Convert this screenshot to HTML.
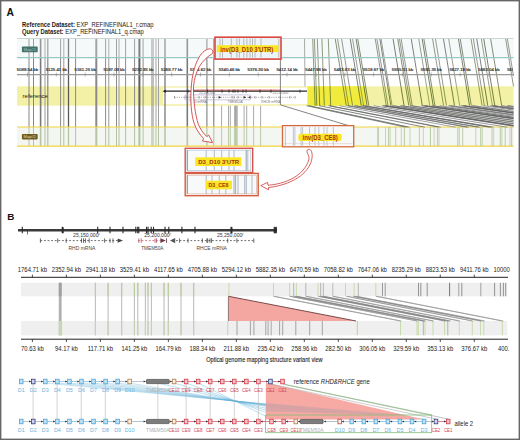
<!DOCTYPE html>
<html><head><meta charset="utf-8"><style>
html,body{margin:0;padding:0;background:#fff;width:520px;height:440px;overflow:hidden;}
svg{display:block;font-family:"Liberation Sans", sans-serif;}
</style></head><body>
<svg width="520" height="440" viewBox="0 0 520 440" font-family='"Liberation Sans", sans-serif'>
<rect x="0" y="0" width="520" height="440" fill="#fff"/>
<text x="6.6" y="15.7" font-size="10.3" fill="#111" font-weight="bold" text-anchor="start" font-style="normal">A</text>
<text x="22" y="27.3" font-size="6.3" fill="#1a1a1a" textLength="131.5" lengthAdjust="spacingAndGlyphs"><tspan font-weight="bold">Reference Dataset: </tspan>EXP_REFINEFINAL1_r.cmap</text>
<text x="22" y="34.4" font-size="6.3" fill="#1a1a1a" textLength="121.8" lengthAdjust="spacingAndGlyphs"><tspan font-weight="bold">Query Dataset: </tspan>EXP_REFINEFINAL1_q.cmap</text>
<rect x="17" y="38.5" width="496.5" height="19" fill="#f5f9f9" stroke="none" stroke-width="1"/>
<rect x="17" y="86.3" width="496.5" height="19.4" fill="#f3f1a6" stroke="none" stroke-width="1"/>
<rect x="307.5" y="86.3" width="58.5" height="19.4" fill="#f0eb3c" stroke="none" stroke-width="1"/>
<rect x="163" y="87.6" width="144.2" height="16.6" fill="#ffffff" stroke="none" stroke-width="1"/>
<rect x="17" y="127" width="496.5" height="19.2" fill="#f4f6f2" stroke="none" stroke-width="1"/>
<line x1="221.6" y1="105.7" x2="221.6" y2="127" stroke="#a0a0a0" stroke-width="0.9"/>
<line x1="221.6" y1="127" x2="221.6" y2="146.2" stroke="#b4c4a4" stroke-width="0.9"/>
<line x1="228.5" y1="105.7" x2="228.5" y2="127" stroke="#a0a0a0" stroke-width="0.9"/>
<line x1="228.5" y1="127" x2="228.5" y2="146.2" stroke="#b4c4a4" stroke-width="0.9"/>
<line x1="230.3" y1="105.7" x2="230.3" y2="127" stroke="#a0a0a0" stroke-width="0.9"/>
<line x1="230.3" y1="127" x2="230.3" y2="146.2" stroke="#b4c4a4" stroke-width="0.9"/>
<line x1="234.6" y1="105.7" x2="234.6" y2="127" stroke="#a0a0a0" stroke-width="0.9"/>
<line x1="234.6" y1="127" x2="234.6" y2="146.2" stroke="#b4c4a4" stroke-width="0.9"/>
<line x1="235.5" y1="105.7" x2="235.5" y2="127" stroke="#a0a0a0" stroke-width="0.9"/>
<line x1="235.5" y1="127" x2="235.5" y2="146.2" stroke="#b4c4a4" stroke-width="0.9"/>
<line x1="236.4" y1="105.7" x2="236.4" y2="127" stroke="#a0a0a0" stroke-width="0.9"/>
<line x1="236.4" y1="127" x2="236.4" y2="146.2" stroke="#b4c4a4" stroke-width="0.9"/>
<line x1="237.2" y1="105.7" x2="237.2" y2="127" stroke="#a0a0a0" stroke-width="0.9"/>
<line x1="237.2" y1="127" x2="237.2" y2="146.2" stroke="#b4c4a4" stroke-width="0.9"/>
<line x1="244.1" y1="105.7" x2="244.1" y2="127" stroke="#a0a0a0" stroke-width="0.9"/>
<line x1="244.1" y1="127" x2="244.1" y2="146.2" stroke="#b4c4a4" stroke-width="0.9"/>
<line x1="246.7" y1="105.7" x2="246.7" y2="127" stroke="#a0a0a0" stroke-width="0.9"/>
<line x1="246.7" y1="127" x2="246.7" y2="146.2" stroke="#b4c4a4" stroke-width="0.9"/>
<line x1="253.6" y1="105.7" x2="253.6" y2="127" stroke="#a0a0a0" stroke-width="0.9"/>
<line x1="253.6" y1="127" x2="253.6" y2="146.2" stroke="#b4c4a4" stroke-width="0.9"/>
<line x1="260.6" y1="105.7" x2="260.6" y2="127" stroke="#a0a0a0" stroke-width="0.9"/>
<line x1="260.6" y1="127" x2="260.6" y2="146.2" stroke="#b4c4a4" stroke-width="0.9"/>
<line x1="280.4" y1="59" x2="280.4" y2="105" stroke="#777" stroke-width="0.9"/>
<line x1="29" y1="38.5" x2="29" y2="57.7" stroke="#9f9f9f" stroke-width="1"/>
<line x1="29" y1="57.7" x2="29" y2="127" stroke="#858585" stroke-width="1"/>
<line x1="29" y1="127" x2="29" y2="146.2" stroke="#b4c4a4" stroke-width="1"/>
<line x1="33.5" y1="38.5" x2="33.5" y2="57.7" stroke="#9f9f9f" stroke-width="1"/>
<line x1="33.5" y1="57.7" x2="33.5" y2="127" stroke="#858585" stroke-width="1"/>
<line x1="33.5" y1="127" x2="33.5" y2="146.2" stroke="#b4c4a4" stroke-width="1"/>
<line x1="40.6" y1="38.5" x2="40.6" y2="57.7" stroke="#979797" stroke-width="1.6"/>
<line x1="40.6" y1="57.7" x2="40.6" y2="127" stroke="#7a7a7a" stroke-width="1.6"/>
<line x1="40.6" y1="127" x2="40.6" y2="146.2" stroke="#b4c4a4" stroke-width="1.6"/>
<line x1="45" y1="38.5" x2="45" y2="57.7" stroke="#afafaf" stroke-width="1"/>
<line x1="45" y1="57.7" x2="45" y2="127" stroke="#999" stroke-width="1"/>
<line x1="45" y1="127" x2="45" y2="146.2" stroke="#b4c4a4" stroke-width="1"/>
<line x1="47.8" y1="38.5" x2="47.8" y2="57.7" stroke="#9f9f9f" stroke-width="1.2"/>
<line x1="47.8" y1="57.7" x2="47.8" y2="127" stroke="#858585" stroke-width="1.2"/>
<line x1="47.8" y1="127" x2="47.8" y2="146.2" stroke="#b4c4a4" stroke-width="1.2"/>
<line x1="60.6" y1="38.5" x2="60.6" y2="57.7" stroke="#a3a3a3" stroke-width="1"/>
<line x1="60.6" y1="57.7" x2="60.6" y2="127" stroke="#8a8a8a" stroke-width="1"/>
<line x1="60.6" y1="127" x2="60.6" y2="146.2" stroke="#b4c4a4" stroke-width="1"/>
<line x1="63.8" y1="38.5" x2="63.8" y2="57.7" stroke="#afafaf" stroke-width="1"/>
<line x1="63.8" y1="57.7" x2="63.8" y2="127" stroke="#999" stroke-width="1"/>
<line x1="63.8" y1="127" x2="63.8" y2="146.2" stroke="#b4c4a4" stroke-width="1"/>
<line x1="68.5" y1="38.5" x2="68.5" y2="57.7" stroke="#7e7e7e" stroke-width="1.3"/>
<line x1="68.5" y1="57.7" x2="68.5" y2="127" stroke="#5a5a5a" stroke-width="1.3"/>
<line x1="68.5" y1="127" x2="68.5" y2="146.2" stroke="#b4c4a4" stroke-width="1.3"/>
<line x1="75.6" y1="38.5" x2="75.6" y2="57.7" stroke="#a2a2a2" stroke-width="1"/>
<line x1="75.6" y1="57.7" x2="75.6" y2="127" stroke="#888" stroke-width="1"/>
<line x1="75.6" y1="127" x2="75.6" y2="146.2" stroke="#b4c4a4" stroke-width="1"/>
<line x1="96.3" y1="38.5" x2="96.3" y2="57.7" stroke="#a3a3a3" stroke-width="2"/>
<line x1="96.3" y1="57.7" x2="96.3" y2="127" stroke="#8a8a8a" stroke-width="2"/>
<line x1="96.3" y1="127" x2="96.3" y2="146.2" stroke="#b4c4a4" stroke-width="2"/>
<line x1="105.6" y1="38.5" x2="105.6" y2="57.7" stroke="#a3a3a3" stroke-width="1"/>
<line x1="105.6" y1="57.7" x2="105.6" y2="127" stroke="#8a8a8a" stroke-width="1"/>
<line x1="105.6" y1="127" x2="105.6" y2="146.2" stroke="#b4c4a4" stroke-width="1"/>
<line x1="108.8" y1="38.5" x2="108.8" y2="57.7" stroke="#afafaf" stroke-width="1"/>
<line x1="108.8" y1="57.7" x2="108.8" y2="127" stroke="#999" stroke-width="1"/>
<line x1="108.8" y1="127" x2="108.8" y2="146.2" stroke="#b4c4a4" stroke-width="1"/>
<line x1="116.5" y1="38.5" x2="116.5" y2="57.7" stroke="#a3a3a3" stroke-width="1"/>
<line x1="116.5" y1="57.7" x2="116.5" y2="127" stroke="#8a8a8a" stroke-width="1"/>
<line x1="116.5" y1="127" x2="116.5" y2="146.2" stroke="#b4c4a4" stroke-width="1"/>
<line x1="119" y1="38.5" x2="119" y2="57.7" stroke="#afafaf" stroke-width="1"/>
<line x1="119" y1="57.7" x2="119" y2="127" stroke="#999" stroke-width="1"/>
<line x1="119" y1="127" x2="119" y2="146.2" stroke="#b4c4a4" stroke-width="1"/>
<line x1="125.6" y1="38.5" x2="125.6" y2="57.7" stroke="#a3a3a3" stroke-width="1"/>
<line x1="125.6" y1="57.7" x2="125.6" y2="127" stroke="#8a8a8a" stroke-width="1"/>
<line x1="125.6" y1="127" x2="125.6" y2="146.2" stroke="#b4c4a4" stroke-width="1"/>
<line x1="134.6" y1="38.5" x2="134.6" y2="57.7" stroke="#a3a3a3" stroke-width="1"/>
<line x1="134.6" y1="57.7" x2="134.6" y2="127" stroke="#8a8a8a" stroke-width="1"/>
<line x1="134.6" y1="127" x2="134.6" y2="146.2" stroke="#b4c4a4" stroke-width="1"/>
<line x1="139.4" y1="38.5" x2="139.4" y2="57.7" stroke="#828282" stroke-width="2"/>
<line x1="139.4" y1="57.7" x2="139.4" y2="127" stroke="#606060" stroke-width="2"/>
<line x1="139.4" y1="127" x2="139.4" y2="146.2" stroke="#b4c4a4" stroke-width="2"/>
<line x1="143.1" y1="38.5" x2="143.1" y2="57.7" stroke="#a3a3a3" stroke-width="1"/>
<line x1="143.1" y1="57.7" x2="143.1" y2="127" stroke="#8a8a8a" stroke-width="1"/>
<line x1="143.1" y1="127" x2="143.1" y2="146.2" stroke="#b4c4a4" stroke-width="1"/>
<line x1="151.9" y1="38.5" x2="151.9" y2="57.7" stroke="#afafaf" stroke-width="1"/>
<line x1="151.9" y1="57.7" x2="151.9" y2="127" stroke="#999" stroke-width="1"/>
<line x1="151.9" y1="127" x2="151.9" y2="146.2" stroke="#b4c4a4" stroke-width="1"/>
<line x1="153.1" y1="38.5" x2="153.1" y2="57.7" stroke="#afafaf" stroke-width="1"/>
<line x1="153.1" y1="57.7" x2="153.1" y2="127" stroke="#999" stroke-width="1"/>
<line x1="153.1" y1="127" x2="153.1" y2="146.2" stroke="#b4c4a4" stroke-width="1"/>
<line x1="156" y1="38.5" x2="156" y2="57.7" stroke="#b4b4b4" stroke-width="1"/>
<line x1="156" y1="57.7" x2="156" y2="127" stroke="#a0a0a0" stroke-width="1"/>
<line x1="156" y1="127" x2="156" y2="146.2" stroke="#b4c4a4" stroke-width="1"/>
<line x1="158.5" y1="38.5" x2="158.5" y2="57.7" stroke="#b4b4b4" stroke-width="1"/>
<line x1="158.5" y1="57.7" x2="158.5" y2="127" stroke="#a0a0a0" stroke-width="1"/>
<line x1="158.5" y1="127" x2="158.5" y2="146.2" stroke="#b4c4a4" stroke-width="1"/>
<line x1="165" y1="38.5" x2="165" y2="57.7" stroke="#a3a3a3" stroke-width="1.5"/>
<line x1="165" y1="57.7" x2="165" y2="127" stroke="#8a8a8a" stroke-width="1.5"/>
<line x1="165" y1="127" x2="165" y2="146.2" stroke="#b4c4a4" stroke-width="1.5"/>
<line x1="187.3" y1="38.5" x2="187.3" y2="57.7" stroke="#979797" stroke-width="1.6"/>
<line x1="187.3" y1="57.7" x2="187.3" y2="127" stroke="#7a7a7a" stroke-width="1.6"/>
<line x1="187.3" y1="127" x2="187.3" y2="146.2" stroke="#b4c4a4" stroke-width="1.6"/>
<line x1="206.9" y1="38.5" x2="206.9" y2="57.7" stroke="#a3a3a3" stroke-width="1.2"/>
<line x1="206.9" y1="57.7" x2="206.9" y2="127" stroke="#8a8a8a" stroke-width="1.2"/>
<line x1="206.9" y1="127" x2="206.9" y2="146.2" stroke="#b4c4a4" stroke-width="1.2"/>
<line x1="213.8" y1="38.5" x2="213.8" y2="57.7" stroke="#979797" stroke-width="1.1"/>
<line x1="213.8" y1="57.7" x2="213.8" y2="127" stroke="#7a7a7a" stroke-width="1.1"/>
<line x1="213.8" y1="127" x2="213.8" y2="146.2" stroke="#b4c4a4" stroke-width="1.1"/>
<line x1="304.5" y1="38.5" x2="305" y2="86.5" stroke="#a0a0a0" stroke-width="0.9"/>
<line x1="312.7" y1="38.5" x2="314.4" y2="86.3" stroke="#7d8a6a" stroke-width="0.85"/>
<line x1="314.4" y1="86.3" x2="315.09999999999997" y2="105.7" stroke="#6a7a2a" stroke-width="0.85"/>
<line x1="314.4" y1="38.5" x2="316.09999999999997" y2="86.3" stroke="#7d8a6a" stroke-width="0.85"/>
<line x1="316.09999999999997" y1="86.3" x2="316.79999999999995" y2="105.7" stroke="#6a7a2a" stroke-width="0.85"/>
<line x1="317.3" y1="38.5" x2="319.0" y2="86.3" stroke="#7d8a6a" stroke-width="0.85"/>
<line x1="319.0" y1="86.3" x2="319.7" y2="105.7" stroke="#6a7a2a" stroke-width="0.85"/>
<line x1="321.9" y1="38.5" x2="323.59999999999997" y2="86.3" stroke="#7d8a6a" stroke-width="0.85"/>
<line x1="323.59999999999997" y1="86.3" x2="324.29999999999995" y2="105.7" stroke="#6a7a2a" stroke-width="0.85"/>
<line x1="328.3" y1="38.5" x2="330.0" y2="86.3" stroke="#7d8a6a" stroke-width="0.85"/>
<line x1="330.0" y1="86.3" x2="330.7" y2="105.7" stroke="#6a7a2a" stroke-width="0.85"/>
<line x1="335.2" y1="38.5" x2="343.087" y2="86.3" stroke="#6f7a62" stroke-width="0.85"/>
<line x1="343.087" y1="86.3" x2="346.288" y2="105.7" stroke="#6a7a30" stroke-width="0.85"/>
<line x1="337.5" y1="38.5" x2="345.387" y2="86.3" stroke="#7d8870" stroke-width="0.85"/>
<line x1="345.387" y1="86.3" x2="348.588" y2="105.7" stroke="#7a8a3a" stroke-width="0.85"/>
<line x1="341.5" y1="38.5" x2="349.387" y2="86.3" stroke="#858585" stroke-width="0.85"/>
<line x1="349.387" y1="86.3" x2="352.588" y2="105.7" stroke="#7a8440" stroke-width="0.85"/>
<line x1="350.2" y1="38.5" x2="358.087" y2="86.3" stroke="#6a6a6a" stroke-width="0.85"/>
<line x1="358.087" y1="86.3" x2="361.288" y2="105.7" stroke="#5a6a2a" stroke-width="0.85"/>
<line x1="352.5" y1="38.5" x2="360.387" y2="86.3" stroke="#87907a" stroke-width="0.85"/>
<line x1="360.387" y1="86.3" x2="363.588" y2="105.7" stroke="#8a9a48" stroke-width="0.85"/>
<line x1="356" y1="38.5" x2="363.887" y2="86.3" stroke="#5f6a58" stroke-width="0.85"/>
<line x1="363.887" y1="86.3" x2="367.088" y2="105.7" stroke="#5a6828" stroke-width="0.85"/>
<line x1="357.7" y1="38.5" x2="365.587" y2="86.3" stroke="#6f7a62" stroke-width="0.85"/>
<line x1="365.587" y1="86.3" x2="368.788" y2="105.7" stroke="#6a7a30" stroke-width="0.85"/>
<line x1="375.2" y1="38.5" x2="383.087" y2="86.3" stroke="#7d8870" stroke-width="0.85"/>
<line x1="383.087" y1="86.3" x2="386.288" y2="105.7" stroke="#7a8a3a" stroke-width="0.85"/>
<line x1="376.9" y1="38.5" x2="384.787" y2="86.3" stroke="#858585" stroke-width="0.85"/>
<line x1="384.787" y1="86.3" x2="387.988" y2="105.7" stroke="#7a8440" stroke-width="0.85"/>
<line x1="379.8" y1="38.5" x2="387.687" y2="86.3" stroke="#6a6a6a" stroke-width="0.85"/>
<line x1="387.687" y1="86.3" x2="390.88800000000003" y2="105.7" stroke="#5a6a2a" stroke-width="0.85"/>
<line x1="381" y1="38.5" x2="388.887" y2="86.3" stroke="#87907a" stroke-width="0.85"/>
<line x1="388.887" y1="86.3" x2="392.088" y2="105.7" stroke="#8a9a48" stroke-width="0.85"/>
<line x1="393" y1="38.5" x2="400.887" y2="86.3" stroke="#5f6a58" stroke-width="0.85"/>
<line x1="400.887" y1="86.3" x2="404.088" y2="105.7" stroke="#5a6828" stroke-width="0.85"/>
<line x1="397.7" y1="38.5" x2="405.587" y2="86.3" stroke="#6f7a62" stroke-width="0.85"/>
<line x1="405.587" y1="86.3" x2="408.788" y2="105.7" stroke="#6a7a30" stroke-width="0.85"/>
<line x1="399.4" y1="38.5" x2="407.287" y2="86.3" stroke="#7d8870" stroke-width="0.85"/>
<line x1="407.287" y1="86.3" x2="410.488" y2="105.7" stroke="#7a8a3a" stroke-width="0.85"/>
<line x1="401.1" y1="38.5" x2="408.987" y2="86.3" stroke="#858585" stroke-width="0.85"/>
<line x1="408.987" y1="86.3" x2="412.18800000000005" y2="105.7" stroke="#7a8440" stroke-width="0.85"/>
<line x1="411.2" y1="38.5" x2="419.087" y2="86.3" stroke="#6a6a6a" stroke-width="0.85"/>
<line x1="419.087" y1="86.3" x2="422.288" y2="105.7" stroke="#5a6a2a" stroke-width="0.85"/>
<line x1="418.7" y1="38.5" x2="426.587" y2="86.3" stroke="#87907a" stroke-width="0.85"/>
<line x1="426.587" y1="86.3" x2="429.788" y2="105.7" stroke="#8a9a48" stroke-width="0.85"/>
<line x1="422.1" y1="38.5" x2="429.987" y2="86.3" stroke="#5f6a58" stroke-width="0.85"/>
<line x1="429.987" y1="86.3" x2="433.18800000000005" y2="105.7" stroke="#5a6828" stroke-width="0.85"/>
<line x1="423.8" y1="38.5" x2="431.687" y2="86.3" stroke="#6f7a62" stroke-width="0.85"/>
<line x1="431.687" y1="86.3" x2="434.88800000000003" y2="105.7" stroke="#6a7a30" stroke-width="0.85"/>
<line x1="432.5" y1="38.5" x2="440.387" y2="86.3" stroke="#7d8870" stroke-width="0.85"/>
<line x1="440.387" y1="86.3" x2="443.588" y2="105.7" stroke="#7a8a3a" stroke-width="0.85"/>
<line x1="435.4" y1="38.5" x2="443.287" y2="86.3" stroke="#858585" stroke-width="0.85"/>
<line x1="443.287" y1="86.3" x2="446.488" y2="105.7" stroke="#7a8440" stroke-width="0.85"/>
<line x1="443.4" y1="38.5" x2="451.287" y2="86.3" stroke="#6a6a6a" stroke-width="0.85"/>
<line x1="451.287" y1="86.3" x2="454.488" y2="105.7" stroke="#5a6a2a" stroke-width="0.85"/>
<line x1="448.6" y1="38.5" x2="456.487" y2="86.3" stroke="#87907a" stroke-width="0.85"/>
<line x1="456.487" y1="86.3" x2="459.68800000000005" y2="105.7" stroke="#8a9a48" stroke-width="0.85"/>
<line x1="458.4" y1="38.5" x2="466.287" y2="86.3" stroke="#5f6a58" stroke-width="0.85"/>
<line x1="466.287" y1="86.3" x2="469.488" y2="105.7" stroke="#5a6828" stroke-width="0.85"/>
<line x1="460.2" y1="38.5" x2="468.087" y2="86.3" stroke="#6f7a62" stroke-width="0.85"/>
<line x1="468.087" y1="86.3" x2="471.288" y2="105.7" stroke="#6a7a30" stroke-width="0.85"/>
<line x1="471" y1="38.5" x2="478.887" y2="86.3" stroke="#7d8870" stroke-width="0.85"/>
<line x1="478.887" y1="86.3" x2="482.088" y2="105.7" stroke="#7a8a3a" stroke-width="0.85"/>
<line x1="473.3" y1="38.5" x2="481.187" y2="86.3" stroke="#858585" stroke-width="0.85"/>
<line x1="481.187" y1="86.3" x2="484.38800000000003" y2="105.7" stroke="#7a8440" stroke-width="0.85"/>
<line x1="476.7" y1="38.5" x2="484.587" y2="86.3" stroke="#6a6a6a" stroke-width="0.85"/>
<line x1="484.587" y1="86.3" x2="487.788" y2="105.7" stroke="#5a6a2a" stroke-width="0.85"/>
<line x1="481.3" y1="38.5" x2="489.187" y2="86.3" stroke="#87907a" stroke-width="0.85"/>
<line x1="489.187" y1="86.3" x2="492.38800000000003" y2="105.7" stroke="#8a9a48" stroke-width="0.85"/>
<line x1="483.7" y1="38.5" x2="491.587" y2="86.3" stroke="#5f6a58" stroke-width="0.85"/>
<line x1="491.587" y1="86.3" x2="494.788" y2="105.7" stroke="#5a6828" stroke-width="0.85"/>
<line x1="490.6" y1="38.5" x2="498.487" y2="86.3" stroke="#6f7a62" stroke-width="0.85"/>
<line x1="498.487" y1="86.3" x2="501.68800000000005" y2="105.7" stroke="#6a7a30" stroke-width="0.85"/>
<line x1="505.6" y1="38.5" x2="513.4870000000001" y2="86.3" stroke="#7d8870" stroke-width="0.85"/>
<line x1="513.4870000000001" y1="86.3" x2="513.5" y2="86.37878787878773" stroke="#7a8a3a" stroke-width="0.85"/>
<line x1="507.3" y1="38.5" x2="513.5" y2="76.0757575757575" stroke="#858585" stroke-width="0.85"/>
<line x1="17" y1="74.7" x2="513.5" y2="74.7" stroke="#9a9a9a" stroke-width="1.2"/>
<text x="27.5" y="71" font-size="4.3" fill="#333" font-weight="normal" text-anchor="middle" font-style="normal" stroke="#333" stroke-width="0.2">5089.54 kb</text>
<line x1="27.5" y1="72.6" x2="27.5" y2="76.6" stroke="#777" stroke-width="0.5"/>
<text x="56.34" y="71" font-size="4.3" fill="#333" font-weight="normal" text-anchor="middle" font-style="normal" stroke="#333" stroke-width="0.2">5125.41 kb</text>
<line x1="56.34" y1="72.6" x2="56.34" y2="76.6" stroke="#777" stroke-width="0.5"/>
<text x="85.18" y="71" font-size="4.3" fill="#333" font-weight="normal" text-anchor="middle" font-style="normal" stroke="#333" stroke-width="0.2">5161.25 kb</text>
<line x1="85.18" y1="72.6" x2="85.18" y2="76.6" stroke="#777" stroke-width="0.5"/>
<text x="114.02" y="71" font-size="4.3" fill="#333" font-weight="normal" text-anchor="middle" font-style="normal" stroke="#333" stroke-width="0.2">5197.09 kb</text>
<line x1="114.02" y1="72.6" x2="114.02" y2="76.6" stroke="#777" stroke-width="0.5"/>
<text x="142.86" y="71" font-size="4.3" fill="#333" font-weight="normal" text-anchor="middle" font-style="normal" stroke="#333" stroke-width="0.2">5232.93 kb</text>
<line x1="142.86" y1="72.6" x2="142.86" y2="76.6" stroke="#777" stroke-width="0.5"/>
<text x="171.7" y="71" font-size="4.3" fill="#333" font-weight="normal" text-anchor="middle" font-style="normal" stroke="#333" stroke-width="0.2">5268.77 kb</text>
<line x1="171.7" y1="72.6" x2="171.7" y2="76.6" stroke="#777" stroke-width="0.5"/>
<text x="200.54" y="71" font-size="4.3" fill="#333" font-weight="normal" text-anchor="middle" font-style="normal" stroke="#333" stroke-width="0.2">5304.62 kb</text>
<line x1="200.54" y1="72.6" x2="200.54" y2="76.6" stroke="#777" stroke-width="0.5"/>
<text x="229.38" y="71" font-size="4.3" fill="#333" font-weight="normal" text-anchor="middle" font-style="normal" stroke="#333" stroke-width="0.2">5340.46 kb</text>
<line x1="229.38" y1="72.6" x2="229.38" y2="76.6" stroke="#777" stroke-width="0.5"/>
<text x="258.22" y="71" font-size="4.3" fill="#333" font-weight="normal" text-anchor="middle" font-style="normal" stroke="#333" stroke-width="0.2">5376.30 kb</text>
<line x1="258.22" y1="72.6" x2="258.22" y2="76.6" stroke="#777" stroke-width="0.5"/>
<text x="287.06" y="71" font-size="4.3" fill="#333" font-weight="normal" text-anchor="middle" font-style="normal" stroke="#333" stroke-width="0.2">5412.14 kb</text>
<line x1="287.06" y1="72.6" x2="287.06" y2="76.6" stroke="#777" stroke-width="0.5"/>
<text x="315.9" y="71" font-size="4.3" fill="#333" font-weight="normal" text-anchor="middle" font-style="normal" stroke="#333" stroke-width="0.2">5447.98 kb</text>
<line x1="315.9" y1="72.6" x2="315.9" y2="76.6" stroke="#777" stroke-width="0.5"/>
<text x="344.74" y="71" font-size="4.3" fill="#333" font-weight="normal" text-anchor="middle" font-style="normal" stroke="#333" stroke-width="0.2">5483.83 kb</text>
<line x1="344.74" y1="72.6" x2="344.74" y2="76.6" stroke="#777" stroke-width="0.5"/>
<text x="373.58" y="71" font-size="4.3" fill="#333" font-weight="normal" text-anchor="middle" font-style="normal" stroke="#333" stroke-width="0.2">5519.67 kb</text>
<line x1="373.58" y1="72.6" x2="373.58" y2="76.6" stroke="#777" stroke-width="0.5"/>
<text x="402.42" y="71" font-size="4.3" fill="#333" font-weight="normal" text-anchor="middle" font-style="normal" stroke="#333" stroke-width="0.2">5555.51 kb</text>
<line x1="402.42" y1="72.6" x2="402.42" y2="76.6" stroke="#777" stroke-width="0.5"/>
<text x="431.26" y="71" font-size="4.3" fill="#333" font-weight="normal" text-anchor="middle" font-style="normal" stroke="#333" stroke-width="0.2">5591.35 kb</text>
<line x1="431.26" y1="72.6" x2="431.26" y2="76.6" stroke="#777" stroke-width="0.5"/>
<text x="460.1" y="71" font-size="4.3" fill="#333" font-weight="normal" text-anchor="middle" font-style="normal" stroke="#333" stroke-width="0.2">5627.19 kb</text>
<line x1="460.1" y1="72.6" x2="460.1" y2="76.6" stroke="#777" stroke-width="0.5"/>
<text x="488.94" y="71" font-size="4.3" fill="#333" font-weight="normal" text-anchor="middle" font-style="normal" stroke="#333" stroke-width="0.2">5663.04 kb</text>
<line x1="488.94" y1="72.6" x2="488.94" y2="76.6" stroke="#777" stroke-width="0.5"/>
<clipPath id="cl17"><rect x="500" y="60" width="12.8" height="20"/></clipPath>
<text x="517.78" y="71" font-size="4.3" fill="#333" font-weight="normal" text-anchor="middle" font-style="normal" stroke="#333" stroke-width="0.2" clip-path="url(#cl17)">5698.88 kb</text>
<line x1="17" y1="38.5" x2="513.5" y2="38.5" stroke="#c4d2d2" stroke-width="0.9"/>
<line x1="17" y1="57.7" x2="513.5" y2="57.7" stroke="#98c8c4" stroke-width="1.3"/>
<line x1="17" y1="127" x2="513.5" y2="127" stroke="#f0d43c" stroke-width="1.2"/>
<line x1="17" y1="146.2" x2="513.5" y2="146.2" stroke="#f0d43c" stroke-width="1.2"/>
<rect x="21.9" y="46.5" width="15.8" height="5.8" fill="#43716c" stroke="none" stroke-width="1" rx="0.8"/>
<text x="29.8" y="50.9" font-size="4" fill="#a8c8c0" font-weight="normal" text-anchor="middle" font-style="normal">Map#1</text>
<rect x="21.9" y="133.9" width="15.8" height="5.5" fill="#6c5c24" stroke="none" stroke-width="1" rx="0.8"/>
<text x="29.7" y="138.2" font-size="4" fill="#eadfb0" font-weight="normal" text-anchor="middle" font-style="normal">Map#2</text>
<text x="22.6" y="98.4" font-size="6" fill="#222" font-weight="normal" text-anchor="start" font-style="normal">reference</text>
<line x1="164" y1="91.2" x2="307" y2="91.2" stroke="#2a2a2a" stroke-width="1.2"/>
<path d="M162.6,91.2 l3.2,-1.6 v3.2 z" fill="#222"/>
<line x1="191.5" y1="90.1" x2="280.4" y2="90.1" stroke="#d04040" stroke-width="0.8"/>
<line x1="188" y1="89.6" x2="188" y2="92.8" stroke="#222" stroke-width="0.7"/>
<line x1="207.5" y1="89.6" x2="207.5" y2="92.8" stroke="#222" stroke-width="0.7"/>
<line x1="222" y1="89.6" x2="222" y2="92.8" stroke="#222" stroke-width="0.7"/>
<line x1="229" y1="89.6" x2="229" y2="92.8" stroke="#222" stroke-width="0.7"/>
<line x1="233" y1="89.6" x2="233" y2="92.8" stroke="#222" stroke-width="0.7"/>
<line x1="235" y1="89.6" x2="235" y2="92.8" stroke="#222" stroke-width="0.7"/>
<line x1="238" y1="89.6" x2="238" y2="92.8" stroke="#222" stroke-width="0.7"/>
<line x1="243" y1="89.6" x2="243" y2="92.8" stroke="#222" stroke-width="0.7"/>
<line x1="246" y1="89.6" x2="246" y2="92.8" stroke="#222" stroke-width="0.7"/>
<line x1="260" y1="89.6" x2="260" y2="92.8" stroke="#222" stroke-width="0.7"/>
<line x1="271" y1="89.6" x2="271" y2="92.8" stroke="#222" stroke-width="0.7"/>
<line x1="300" y1="89.6" x2="300" y2="92.8" stroke="#222" stroke-width="0.7"/>
<line x1="174.5" y1="97.3" x2="295.2" y2="97.3" stroke="#666" stroke-width="0.6" stroke-dasharray="1.1,1.1"/>
<line x1="174.5" y1="96" x2="174.5" y2="98.6" stroke="#555" stroke-width="0.5"/>
<line x1="186" y1="96" x2="186" y2="98.6" stroke="#555" stroke-width="0.5"/>
<line x1="190" y1="96" x2="190" y2="98.6" stroke="#555" stroke-width="0.5"/>
<line x1="199" y1="96" x2="199" y2="98.6" stroke="#555" stroke-width="0.5"/>
<line x1="205" y1="96" x2="205" y2="98.6" stroke="#555" stroke-width="0.5"/>
<line x1="232" y1="96" x2="232" y2="98.6" stroke="#555" stroke-width="0.5"/>
<line x1="234" y1="96" x2="234" y2="98.6" stroke="#555" stroke-width="0.5"/>
<line x1="238" y1="96" x2="238" y2="98.6" stroke="#555" stroke-width="0.5"/>
<line x1="255" y1="96" x2="255" y2="98.6" stroke="#555" stroke-width="0.5"/>
<line x1="262" y1="96" x2="262" y2="98.6" stroke="#555" stroke-width="0.5"/>
<line x1="269" y1="96" x2="269" y2="98.6" stroke="#555" stroke-width="0.5"/>
<line x1="280" y1="96" x2="280" y2="98.6" stroke="#555" stroke-width="0.5"/>
<line x1="290" y1="96" x2="290" y2="98.6" stroke="#555" stroke-width="0.5"/>
<line x1="295.2" y1="96" x2="295.2" y2="98.6" stroke="#555" stroke-width="0.5"/>
<path d="M218.6,95.9 l2.6,1.4 l-2.6,1.4 z" fill="#333"/>
<path d="M243.6,95.9 l2.6,1.4 l-2.6,1.4 z" fill="#333"/>
<path d="M250.6,95.9 l-2.6,1.4 l2.6,1.4 z" fill="#333"/>
<rect x="184.6" y="94.9" width="66.2" height="4.9" fill="none" stroke="#a89cc8" stroke-width="0.6" rx="1.4"/>
<text x="198.4" y="102.6" font-size="3.2" fill="#777" font-weight="normal" text-anchor="middle" font-style="normal">RHD mRNA</text>
<text x="235" y="102.6" font-size="3.2" fill="#777" font-weight="normal" text-anchor="middle" font-style="normal">TMEM50A</text>
<text x="271" y="102.6" font-size="3.2" fill="#777" font-weight="normal" text-anchor="middle" font-style="normal">RHCE mRNA</text>
<text x="280.4" y="94.4" font-size="3.2" fill="#777" font-weight="normal" text-anchor="middle" font-style="normal">25,250,000</text>
<text x="207" y="94.4" font-size="3.2" fill="#777" font-weight="normal" text-anchor="middle" font-style="normal">25,200,000</text>
<clipPath id="ca"><rect x="0" y="100" width="513.5" height="30"/></clipPath><g clip-path="url(#ca)">
<line x1="280.8" y1="105" x2="353" y2="127" stroke="#666" stroke-width="0.8"/>
<line x1="306.5" y1="105.7" x2="405.658" y2="127.2" stroke="#626a5e" stroke-width="0.7"/>
<line x1="307.8" y1="105.7" x2="407.6288" y2="127.2" stroke="#7a7a7a" stroke-width="0.7"/>
<line x1="309.1" y1="105.7" x2="409.5996" y2="127.2" stroke="#626a5e" stroke-width="0.7"/>
<line x1="319.11225141888525" y1="105.7" x2="424.77817315103005" y2="127.2" stroke="#505050" stroke-width="0.7"/>
<line x1="328.29204425606383" y1="105.7" x2="438.6947390921928" y2="127.2" stroke="#626a5e" stroke-width="0.7"/>
<line x1="329.59204425606384" y1="105.7" x2="440.6655390921928" y2="127.2" stroke="#5a5a5a" stroke-width="0.7"/>
<line x1="339.39654671481696" y1="105.7" x2="455.52916481966247" y2="127.2" stroke="#7a7a7a" stroke-width="0.7"/>
<line x1="347.04189195372777" y1="105.7" x2="467.1195082018513" y2="127.2" stroke="#505050" stroke-width="0.7"/>
<line x1="348.3418919537278" y1="105.7" x2="469.0903082018513" y2="127.2" stroke="#707070" stroke-width="0.7"/>
<line x1="354.15176396459736" y1="105.7" x2="477.89807417032955" y2="127.2" stroke="#5a5a5a" stroke-width="0.7"/>
<line x1="355.4517639645974" y1="105.7" x2="479.8688741703296" y2="127.2" stroke="#626a5e" stroke-width="0.7"/>
<line x1="361.8354129669166" y1="105.7" x2="489.5464860578455" y2="127.2" stroke="#6a6a6a" stroke-width="0.7"/>
<line x1="363.1354129669166" y1="105.7" x2="491.5172860578456" y2="127.2" stroke="#505050" stroke-width="0.7"/>
<line x1="364.4354129669166" y1="105.7" x2="493.4880860578455" y2="127.2" stroke="#6a6a6a" stroke-width="0.7"/>
<line x1="373.5450401048885" y1="105.7" x2="507.29828079901097" y2="127.2" stroke="#6a6a6a" stroke-width="0.7"/>
<line x1="381.93467102970396" y1="105.7" x2="520.0169612810312" y2="127.2" stroke="#6a6a6a" stroke-width="0.7"/>
<line x1="383.234671029704" y1="105.7" x2="521.9877612810312" y2="127.2" stroke="#6a6a6a" stroke-width="0.7"/>
<line x1="384.534671029704" y1="105.7" x2="523.9585612810313" y2="127.2" stroke="#5a5a5a" stroke-width="0.7"/>
<line x1="385.83467102970394" y1="105.7" x2="525.9293612810311" y2="127.2" stroke="#5a5a5a" stroke-width="0.7"/>
<line x1="392.1819529421796" y1="105.7" x2="535.5518406603442" y2="127.2" stroke="#6a6a6a" stroke-width="0.7"/>
<line x1="393.4819529421796" y1="105.7" x2="537.5226406603442" y2="127.2" stroke="#6a6a6a" stroke-width="0.7"/>
<line x1="400.2284787809142" y1="105.7" x2="547.750373831866" y2="127.2" stroke="#707070" stroke-width="0.7"/>
<line x1="401.5284787809142" y1="105.7" x2="549.7211738318659" y2="127.2" stroke="#626a5e" stroke-width="0.7"/>
<line x1="409.95712975929985" y1="105.7" x2="560.4571297592998" y2="127.2" stroke="#626a5e" stroke-width="0.7"/>
<line x1="411.25712975929986" y1="105.7" x2="561.7571297592999" y2="127.2" stroke="#6a6a6a" stroke-width="0.7"/>
<line x1="421.3899513208858" y1="105.7" x2="571.8899513208858" y2="127.2" stroke="#7a7a7a" stroke-width="0.7"/>
<line x1="422.6899513208858" y1="105.7" x2="573.1899513208858" y2="127.2" stroke="#5a5a5a" stroke-width="0.7"/>
<line x1="423.98995132088584" y1="105.7" x2="574.4899513208859" y2="127.2" stroke="#7a7a7a" stroke-width="0.7"/>
<line x1="425.2899513208858" y1="105.7" x2="575.7899513208858" y2="127.2" stroke="#505050" stroke-width="0.7"/>
<line x1="431.4197316065345" y1="105.7" x2="581.9197316065345" y2="127.2" stroke="#7a7a7a" stroke-width="0.7"/>
<line x1="432.71973160653454" y1="105.7" x2="583.2197316065345" y2="127.2" stroke="#5a5a5a" stroke-width="0.7"/>
<line x1="439.6790040426377" y1="105.7" x2="590.1790040426376" y2="127.2" stroke="#707070" stroke-width="0.7"/>
<line x1="448.36867529037613" y1="105.7" x2="598.8686752903761" y2="127.2" stroke="#5a5a5a" stroke-width="0.7"/>
<line x1="449.66867529037614" y1="105.7" x2="600.1686752903761" y2="127.2" stroke="#7a7a7a" stroke-width="0.7"/>
<line x1="450.96867529037615" y1="105.7" x2="601.4686752903762" y2="127.2" stroke="#7a7a7a" stroke-width="0.7"/>
<line x1="460.3612656636115" y1="105.7" x2="610.8612656636114" y2="127.2" stroke="#626a5e" stroke-width="0.7"/>
<line x1="461.6612656636115" y1="105.7" x2="612.1612656636115" y2="127.2" stroke="#7a7a7a" stroke-width="0.7"/>
<line x1="462.9612656636115" y1="105.7" x2="613.4612656636116" y2="127.2" stroke="#6a6a6a" stroke-width="0.7"/>
<line x1="464.2612656636115" y1="105.7" x2="614.7612656636115" y2="127.2" stroke="#505050" stroke-width="0.7"/>
<line x1="471.92395741267273" y1="105.7" x2="622.4239574126727" y2="127.2" stroke="#5a5a5a" stroke-width="0.7"/>
<line x1="473.22395741267275" y1="105.7" x2="623.7239574126727" y2="127.2" stroke="#7a7a7a" stroke-width="0.7"/>
<line x1="483.3994552283939" y1="105.7" x2="633.8994552283939" y2="127.2" stroke="#626a5e" stroke-width="0.7"/>
<line x1="490.48767555368806" y1="105.7" x2="640.9876755536881" y2="127.2" stroke="#5a5a5a" stroke-width="0.7"/>
<line x1="491.7876755536881" y1="105.7" x2="642.2876755536881" y2="127.2" stroke="#707070" stroke-width="0.7"/>
<line x1="493.0876755536881" y1="105.7" x2="643.5876755536881" y2="127.2" stroke="#505050" stroke-width="0.7"/>
<line x1="494.38767555368804" y1="105.7" x2="644.887675553688" y2="127.2" stroke="#7a7a7a" stroke-width="0.7"/>
<line x1="501.5695026167463" y1="105.7" x2="652.0695026167464" y2="127.2" stroke="#505050" stroke-width="0.7"/>
<line x1="507.103138210241" y1="105.7" x2="657.603138210241" y2="127.2" stroke="#707070" stroke-width="0.7"/>
<line x1="508.403138210241" y1="105.7" x2="658.903138210241" y2="127.2" stroke="#6a6a6a" stroke-width="0.7"/>
</g>
<line x1="377.6" y1="127" x2="377.6" y2="146.2" stroke="#c2d0b0" stroke-width="0.9"/>
<line x1="378.4" y1="127" x2="378.4" y2="146.2" stroke="#b8c4a8" stroke-width="0.9"/>
<line x1="385.5" y1="127" x2="385.5" y2="146.2" stroke="#c6c6c6" stroke-width="0.9"/>
<line x1="388.6" y1="127" x2="388.6" y2="146.2" stroke="#b0c498" stroke-width="0.9"/>
<line x1="390.2" y1="127" x2="390.2" y2="146.2" stroke="#c2d0b0" stroke-width="0.9"/>
<line x1="395.7" y1="127" x2="395.7" y2="146.2" stroke="#b8c4a8" stroke-width="0.9"/>
<line x1="401.3" y1="127" x2="401.3" y2="146.2" stroke="#c6c6c6" stroke-width="0.9"/>
<line x1="404.4" y1="127" x2="404.4" y2="146.2" stroke="#b0c498" stroke-width="0.9"/>
<line x1="410" y1="127" x2="410" y2="146.2" stroke="#c2d0b0" stroke-width="0.9"/>
<line x1="419.4" y1="127" x2="419.4" y2="146.2" stroke="#b8c4a8" stroke-width="0.9"/>
<line x1="423.3" y1="127" x2="423.3" y2="146.2" stroke="#c6c6c6" stroke-width="0.9"/>
<line x1="430.4" y1="127" x2="430.4" y2="146.2" stroke="#b0c498" stroke-width="0.9"/>
<line x1="434.1" y1="127" x2="434.1" y2="146.2" stroke="#c2d0b0" stroke-width="0.9"/>
<line x1="437.4" y1="127" x2="437.4" y2="146.2" stroke="#b8c4a8" stroke-width="0.9"/>
<line x1="439" y1="127" x2="439" y2="146.2" stroke="#c6c6c6" stroke-width="0.9"/>
<line x1="457.8" y1="127" x2="457.8" y2="146.2" stroke="#b0c498" stroke-width="0.9"/>
<line x1="459.4" y1="127" x2="459.4" y2="146.2" stroke="#c2d0b0" stroke-width="0.9"/>
<line x1="462.7" y1="127" x2="462.7" y2="146.2" stroke="#b8c4a8" stroke-width="0.9"/>
<line x1="475.8" y1="127" x2="475.8" y2="146.2" stroke="#c6c6c6" stroke-width="0.9"/>
<line x1="480.7" y1="127" x2="480.7" y2="146.2" stroke="#b0c498" stroke-width="0.9"/>
<line x1="482.3" y1="127" x2="482.3" y2="146.2" stroke="#c2d0b0" stroke-width="0.9"/>
<line x1="492" y1="127" x2="492" y2="146.2" stroke="#b8c4a8" stroke-width="0.9"/>
<line x1="493.7" y1="127" x2="493.7" y2="146.2" stroke="#c6c6c6" stroke-width="0.9"/>
<line x1="500.3" y1="127" x2="500.3" y2="146.2" stroke="#b0c498" stroke-width="0.9"/>
<line x1="501.9" y1="127" x2="501.9" y2="146.2" stroke="#c2d0b0" stroke-width="0.9"/>
<line x1="505.2" y1="127" x2="505.2" y2="146.2" stroke="#b8c4a8" stroke-width="0.9"/>
<line x1="510" y1="127" x2="510" y2="146.2" stroke="#c6c6c6" stroke-width="0.9"/>
<line x1="511.7" y1="127" x2="511.7" y2="146.2" stroke="#b0c498" stroke-width="0.9"/>
<rect x="215" y="37.2" width="66" height="21.9" fill="#edf4f7" stroke="#d9473f" stroke-width="1.6"/>
<line x1="220" y1="38.5" x2="220" y2="57.6" stroke="#aaa" stroke-width="0.8"/>
<line x1="222.5" y1="38.5" x2="222.5" y2="57.6" stroke="#aaa" stroke-width="0.8"/>
<line x1="231.3" y1="38.5" x2="231.3" y2="57.6" stroke="#aaa" stroke-width="0.8"/>
<line x1="236.9" y1="38.5" x2="236.9" y2="57.6" stroke="#aaa" stroke-width="0.8"/>
<line x1="239.4" y1="38.5" x2="239.4" y2="57.6" stroke="#aaa" stroke-width="0.8"/>
<line x1="243.8" y1="38.5" x2="243.8" y2="57.6" stroke="#aaa" stroke-width="0.8"/>
<line x1="246.9" y1="38.5" x2="246.9" y2="57.6" stroke="#aaa" stroke-width="0.8"/>
<line x1="250" y1="38.5" x2="250" y2="57.6" stroke="#aaa" stroke-width="0.8"/>
<line x1="252.5" y1="38.5" x2="252.5" y2="57.6" stroke="#aaa" stroke-width="0.8"/>
<line x1="255" y1="38.5" x2="255" y2="57.6" stroke="#aaa" stroke-width="0.8"/>
<line x1="261" y1="38.5" x2="261" y2="57.6" stroke="#aaa" stroke-width="0.8"/>
<line x1="278.8" y1="38.5" x2="278.8" y2="57.6" stroke="#aaa" stroke-width="0.8"/>
<rect x="216.8" y="45.2" width="61.7" height="6.9" fill="#fbe626" stroke="none" stroke-width="1"/>
<text x="246.8" y="51.5" font-size="6.4" fill="#a8340e" font-weight="bold" text-anchor="middle" font-style="normal" textLength="53" lengthAdjust="spacingAndGlyphs">inv(D3_D10 3'UTR)</text>
<rect x="282.5" y="125.6" width="71.2" height="21.2" fill="#f8f9fb" stroke="#d46a3a" stroke-width="1.3"/>
<line x1="285.4" y1="127" x2="285.4" y2="145.6" stroke="#b0b8c4" stroke-width="0.8"/>
<line x1="293.4" y1="127" x2="293.4" y2="145.6" stroke="#b0b8c4" stroke-width="0.8"/>
<line x1="294.9" y1="127" x2="294.9" y2="145.6" stroke="#b0b8c4" stroke-width="0.8"/>
<line x1="301" y1="127" x2="301" y2="145.6" stroke="#b0b8c4" stroke-width="0.8"/>
<line x1="302.6" y1="127" x2="302.6" y2="145.6" stroke="#b0b8c4" stroke-width="0.8"/>
<line x1="309.5" y1="127" x2="309.5" y2="145.6" stroke="#b0b8c4" stroke-width="0.8"/>
<line x1="315" y1="127" x2="315" y2="145.6" stroke="#b0b8c4" stroke-width="0.8"/>
<line x1="318.8" y1="127" x2="318.8" y2="145.6" stroke="#b0b8c4" stroke-width="0.8"/>
<line x1="324" y1="127" x2="324" y2="145.6" stroke="#b0b8c4" stroke-width="0.8"/>
<line x1="327" y1="127" x2="327" y2="145.6" stroke="#b0b8c4" stroke-width="0.8"/>
<line x1="333.4" y1="127" x2="333.4" y2="145.6" stroke="#b0b8c4" stroke-width="0.8"/>
<line x1="283.5" y1="143.6" x2="352.7" y2="143.6" stroke="#d8c8b8" stroke-width="0.5"/>
<rect x="298.3" y="133.7" width="43.4" height="7.4" fill="#fbe626" stroke="none" stroke-width="1" rx="2"/>
<text x="320.2" y="139.7" font-size="6.3" fill="#a8340e" font-weight="bold" text-anchor="middle" font-style="normal" textLength="35.3" lengthAdjust="spacingAndGlyphs">inv(D3_CE8)</text>
<rect x="185.2" y="148.3" width="67.5" height="24.2" fill="#f8fafc" stroke="#d9534f" stroke-width="1.4"/>
<rect x="187" y="150.2" width="63.8" height="20.4" fill="none" stroke="#a9c6d6" stroke-width="0.7"/>
<line x1="187.4" y1="150.2" x2="187.4" y2="170.6" stroke="#6a9090" stroke-width="0.8"/>
<line x1="206.2" y1="150.2" x2="206.2" y2="170.6" stroke="#a0acb8" stroke-width="0.8"/>
<line x1="214.3" y1="150.2" x2="214.3" y2="170.6" stroke="#a0acb8" stroke-width="0.8"/>
<line x1="221.7" y1="150.2" x2="221.7" y2="170.6" stroke="#a0acb8" stroke-width="0.8"/>
<line x1="229" y1="150.2" x2="229" y2="170.6" stroke="#a0acb8" stroke-width="0.8"/>
<line x1="234" y1="150.2" x2="234" y2="170.6" stroke="#a0acb8" stroke-width="0.8"/>
<line x1="246.2" y1="150.2" x2="246.2" y2="170.6" stroke="#7a8898" stroke-width="0.8"/>
<line x1="247.8" y1="150.2" x2="247.8" y2="170.6" stroke="#a0acb8" stroke-width="0.8"/>
<rect x="195.2" y="157.3" width="46.2" height="8.7" fill="#fbe626" stroke="none" stroke-width="1"/>
<text x="218.7" y="163.7" font-size="6.2" fill="#a8340e" font-weight="bold" text-anchor="middle" font-style="normal" textLength="41" lengthAdjust="spacingAndGlyphs">D3_D10 3'UTR</text>
<rect x="185.2" y="173.4" width="73" height="22.3" fill="#f8f9fa" stroke="#d4603f" stroke-width="1.4"/>
<rect x="187" y="175.2" width="69.4" height="18.7" fill="none" stroke="#d8a890" stroke-width="0.6"/>
<line x1="187.4" y1="175.2" x2="187.4" y2="193.9" stroke="#6a9090" stroke-width="0.8"/>
<line x1="206.2" y1="175.2" x2="206.2" y2="193.9" stroke="#a0acb8" stroke-width="0.8"/>
<line x1="212" y1="175.2" x2="212" y2="193.9" stroke="#a0acb8" stroke-width="0.8"/>
<line x1="219.3" y1="175.2" x2="219.3" y2="193.9" stroke="#a0acb8" stroke-width="0.8"/>
<line x1="225.8" y1="175.2" x2="225.8" y2="193.9" stroke="#a0acb8" stroke-width="0.8"/>
<line x1="234" y1="175.2" x2="234" y2="193.9" stroke="#8a98a8" stroke-width="0.8"/>
<line x1="235.6" y1="175.2" x2="235.6" y2="193.9" stroke="#8a98a8" stroke-width="0.8"/>
<line x1="238" y1="175.2" x2="238" y2="193.9" stroke="#a0acb8" stroke-width="0.8"/>
<line x1="244.6" y1="175.2" x2="244.6" y2="193.9" stroke="#a0acb8" stroke-width="0.8"/>
<line x1="246.2" y1="175.2" x2="246.2" y2="193.9" stroke="#8a98a8" stroke-width="0.8"/>
<line x1="252" y1="175.2" x2="252" y2="193.9" stroke="#a0acb8" stroke-width="0.8"/>
<rect x="206" y="180.7" width="26" height="8.6" fill="#fbe626" stroke="none" stroke-width="1"/>
<text x="218.5" y="187" font-size="6.2" fill="#a8340e" font-weight="bold" text-anchor="middle" font-style="normal" textLength="20" lengthAdjust="spacingAndGlyphs">D3_CE8</text>
<path d="M209.5,48.8 C200,50 193,66 191.3,86 C190.3,100 191,114 194.2,123.5 C196.3,129.5 199.5,134.5 203.6,138.4 L202.6,141 L212.6,142.6 L208.6,135 L206.9,136.7 C203,133 200.2,129 198.3,124.3 C195.2,114.5 193.2,100 193.5,86.5 C195,70 202,60 211.8,54 C213.6,52.8 213,48.6 209.5,48.8 Z" fill="#fff" stroke="#d03838" stroke-width="0.85"/>
<path d="M308.6,149.3 C311.5,149.3 312.6,153 312,158 C310.5,170 297,184 268.5,187.6 L268.6,189.8 L260.8,185.6 L267.6,182.4 L268,185.3 C293,183 306,171 309,159 C309.6,156 307.2,153.6 307,151.8 C306.9,150.2 307.6,149.4 308.6,149.3 Z" fill="#fff" stroke="#d03838" stroke-width="0.8"/>
<text x="7.2" y="220.1" font-size="9.9" fill="#111" font-weight="bold" text-anchor="start" font-style="normal">B</text>
<line x1="18" y1="230.2" x2="277" y2="230.2" stroke="#3a3a3a" stroke-width="2.4"/>
<line x1="22.3" y1="226.8" x2="22.3" y2="233.2" stroke="#2a2a2a" stroke-width="1.1"/>
<line x1="62.3" y1="226.8" x2="62.3" y2="233.2" stroke="#2a2a2a" stroke-width="1.1"/>
<line x1="97.7" y1="226.8" x2="97.7" y2="233.2" stroke="#2a2a2a" stroke-width="1.1"/>
<line x1="110" y1="226.8" x2="110" y2="233.2" stroke="#2a2a2a" stroke-width="1.1"/>
<line x1="123" y1="226.8" x2="123" y2="233.2" stroke="#2a2a2a" stroke-width="1.1"/>
<line x1="137.7" y1="226.8" x2="137.7" y2="233.2" stroke="#2a2a2a" stroke-width="1.1"/>
<line x1="135.8" y1="226.8" x2="135.8" y2="233.2" stroke="#2a2a2a" stroke-width="1.1"/>
<line x1="138.8" y1="226.8" x2="138.8" y2="233.2" stroke="#2a2a2a" stroke-width="1.1"/>
<line x1="146.5" y1="226.8" x2="146.5" y2="233.2" stroke="#2a2a2a" stroke-width="1.1"/>
<line x1="148" y1="226.8" x2="148" y2="233.2" stroke="#2a2a2a" stroke-width="1.1"/>
<line x1="151.2" y1="226.8" x2="151.2" y2="233.2" stroke="#2a2a2a" stroke-width="1.1"/>
<line x1="153.5" y1="226.8" x2="153.5" y2="233.2" stroke="#2a2a2a" stroke-width="1.1"/>
<line x1="165" y1="226.8" x2="165" y2="233.2" stroke="#2a2a2a" stroke-width="1.1"/>
<line x1="168.8" y1="226.8" x2="168.8" y2="233.2" stroke="#2a2a2a" stroke-width="1.1"/>
<line x1="181.9" y1="226.8" x2="181.9" y2="233.2" stroke="#2a2a2a" stroke-width="1.1"/>
<line x1="195" y1="226.8" x2="195" y2="233.2" stroke="#2a2a2a" stroke-width="1.1"/>
<line x1="231.2" y1="226.8" x2="231.2" y2="233.2" stroke="#2a2a2a" stroke-width="1.1"/>
<line x1="274.2" y1="226.8" x2="274.2" y2="233.2" stroke="#2a2a2a" stroke-width="1.1"/>
<line x1="276.3" y1="226.8" x2="276.3" y2="233.2" stroke="#2a2a2a" stroke-width="1.1"/>
<line x1="62.8" y1="227.2" x2="62.8" y2="233.2" stroke="#2a2a2a" stroke-width="1.8"/>
<line x1="231.6" y1="227.2" x2="231.6" y2="233.2" stroke="#2a2a2a" stroke-width="1.8"/>
<line x1="275.2" y1="227.2" x2="275.2" y2="233.2" stroke="#2a2a2a" stroke-width="1.8"/>
<line x1="27.5" y1="230.2" x2="27.5" y2="234.5" stroke="#333" stroke-width="0.7"/>
<text x="73.1" y="236.6" font-size="5.1" fill="#333" font-weight="normal" text-anchor="start" font-style="normal" textLength="25.4" lengthAdjust="spacingAndGlyphs">25,150,000</text>
<line x1="99.3" y1="233" x2="98.69999999999999" y2="235.5" stroke="#555" stroke-width="0.5"/>
<text x="144.2" y="236.6" font-size="5.1" fill="#333" font-weight="normal" text-anchor="start" font-style="normal" textLength="25.4" lengthAdjust="spacingAndGlyphs">25,200,000</text>
<line x1="170.39999999999998" y1="233" x2="169.79999999999998" y2="235.5" stroke="#555" stroke-width="0.5"/>
<text x="216.9" y="236.6" font-size="5.1" fill="#333" font-weight="normal" text-anchor="start" font-style="normal" textLength="25.4" lengthAdjust="spacingAndGlyphs">25,250,000</text>
<line x1="243.1" y1="233" x2="242.5" y2="235.5" stroke="#555" stroke-width="0.5"/>
<line x1="40.4" y1="240.6" x2="118" y2="240.6" stroke="#444" stroke-width="0.8" stroke-dasharray="1.8,1.8"/>
<line x1="40.4" y1="238.4" x2="40.4" y2="242.8" stroke="#444" stroke-width="0.8"/>
<line x1="57.7" y1="238.4" x2="57.7" y2="242.8" stroke="#444" stroke-width="0.8"/>
<line x1="66.2" y1="238.4" x2="66.2" y2="242.8" stroke="#444" stroke-width="0.8"/>
<line x1="81.5" y1="238.4" x2="81.5" y2="242.8" stroke="#444" stroke-width="0.8"/>
<line x1="83.5" y1="238.4" x2="83.5" y2="242.8" stroke="#444" stroke-width="0.8"/>
<line x1="85.4" y1="238.4" x2="85.4" y2="242.8" stroke="#444" stroke-width="0.8"/>
<line x1="89.2" y1="238.4" x2="89.2" y2="242.8" stroke="#444" stroke-width="0.8"/>
<line x1="104.6" y1="238.4" x2="104.6" y2="242.8" stroke="#444" stroke-width="0.8"/>
<line x1="110" y1="238.4" x2="110" y2="242.8" stroke="#444" stroke-width="0.8"/>
<line x1="113" y1="238.4" x2="113" y2="242.8" stroke="#444" stroke-width="0.8"/>
<path d="M117.7,238.4 l5.3,2.2 l-5.3,2.2 z" fill="#444"/>
<text x="68.5" y="249.8" font-size="5.1" fill="#444" font-weight="normal" text-anchor="start" font-style="normal" textLength="26.9" lengthAdjust="spacingAndGlyphs">RHD mRNA</text>
<line x1="138" y1="240.6" x2="160.4" y2="240.6" stroke="#c25a6a" stroke-width="0.8" stroke-dasharray="1.8,1.8"/>
<line x1="138.8" y1="238.4" x2="138.8" y2="242.8" stroke="#b04a5a" stroke-width="0.8"/>
<line x1="141.2" y1="238.4" x2="141.2" y2="242.8" stroke="#b04a5a" stroke-width="0.8"/>
<line x1="155" y1="238.4" x2="155" y2="242.8" stroke="#b04a5a" stroke-width="0.8"/>
<line x1="156.5" y1="238.4" x2="156.5" y2="242.8" stroke="#b04a5a" stroke-width="0.8"/>
<path d="M160.4,238.2 l5.4,2.4 l-5.4,2.4 z" fill="#6a3a4a"/>
<line x1="166.5" y1="238.2" x2="166.5" y2="243" stroke="#6a3a4a" stroke-width="0.8"/>
<text x="141.2" y="249.8" font-size="5.1" fill="#444" font-weight="normal" text-anchor="start" font-style="normal" textLength="22.3" lengthAdjust="spacingAndGlyphs">TMEM50A</text>
<path d="M175.2,238 l-5.2,2.6 l5.2,2.6 z" fill="#555"/>
<line x1="176" y1="240.6" x2="253.8" y2="240.6" stroke="#444" stroke-width="0.8" stroke-dasharray="1.8,1.8"/>
<line x1="179.6" y1="238.4" x2="179.6" y2="242.8" stroke="#444" stroke-width="0.8"/>
<line x1="188" y1="238.4" x2="188" y2="242.8" stroke="#444" stroke-width="0.8"/>
<line x1="202.3" y1="238.4" x2="202.3" y2="242.8" stroke="#444" stroke-width="0.8"/>
<line x1="206.9" y1="238.4" x2="206.9" y2="242.8" stroke="#444" stroke-width="0.8"/>
<line x1="207.7" y1="238.4" x2="207.7" y2="242.8" stroke="#444" stroke-width="0.8"/>
<line x1="210" y1="238.4" x2="210" y2="242.8" stroke="#444" stroke-width="0.8"/>
<line x1="211.5" y1="238.4" x2="211.5" y2="242.8" stroke="#444" stroke-width="0.8"/>
<line x1="227.7" y1="238.4" x2="227.7" y2="242.8" stroke="#444" stroke-width="0.8"/>
<line x1="236.9" y1="238.4" x2="236.9" y2="242.8" stroke="#444" stroke-width="0.8"/>
<line x1="253.8" y1="238.4" x2="253.8" y2="242.8" stroke="#444" stroke-width="0.8"/>
<text x="196.5" y="249.8" font-size="5.1" fill="#444" font-weight="normal" text-anchor="start" font-style="normal" textLength="30.4" lengthAdjust="spacingAndGlyphs">RHCE mRNA</text>
<clipPath id="cb"><rect x="0" y="250" width="510.6" height="120"/></clipPath>
<g clip-path="url(#cb)">
<text x="32.4" y="271.6" font-size="6.6" fill="#222" font-weight="normal" text-anchor="middle" font-style="normal" textLength="29.19" lengthAdjust="spacingAndGlyphs">1764.71 kb</text>
<text x="32.4" y="351.4" font-size="6.6" fill="#222" font-weight="normal" text-anchor="middle" font-style="normal" textLength="22.63" lengthAdjust="spacingAndGlyphs">70.63 kb</text>
<text x="66.39" y="271.6" font-size="6.6" fill="#222" font-weight="normal" text-anchor="middle" font-style="normal" textLength="29.19" lengthAdjust="spacingAndGlyphs">2352.94 kb</text>
<text x="66.39" y="351.4" font-size="6.6" fill="#222" font-weight="normal" text-anchor="middle" font-style="normal" textLength="22.63" lengthAdjust="spacingAndGlyphs">94.17 kb</text>
<text x="100.38" y="271.6" font-size="6.6" fill="#222" font-weight="normal" text-anchor="middle" font-style="normal" textLength="29.19" lengthAdjust="spacingAndGlyphs">2941.18 kb</text>
<text x="100.38" y="351.4" font-size="6.6" fill="#222" font-weight="normal" text-anchor="middle" font-style="normal" textLength="25.48" lengthAdjust="spacingAndGlyphs">117.71 kb</text>
<text x="134.37" y="271.6" font-size="6.6" fill="#222" font-weight="normal" text-anchor="middle" font-style="normal" textLength="29.19" lengthAdjust="spacingAndGlyphs">3529.41 kb</text>
<text x="134.37" y="351.4" font-size="6.6" fill="#222" font-weight="normal" text-anchor="middle" font-style="normal" textLength="25.91" lengthAdjust="spacingAndGlyphs">141.25 kb</text>
<text x="168.36" y="271.6" font-size="6.6" fill="#222" font-weight="normal" text-anchor="middle" font-style="normal" textLength="28.76" lengthAdjust="spacingAndGlyphs">4117.65 kb</text>
<text x="168.36" y="351.4" font-size="6.6" fill="#222" font-weight="normal" text-anchor="middle" font-style="normal" textLength="25.91" lengthAdjust="spacingAndGlyphs">164.79 kb</text>
<text x="202.35" y="271.6" font-size="6.6" fill="#222" font-weight="normal" text-anchor="middle" font-style="normal" textLength="29.19" lengthAdjust="spacingAndGlyphs">4705.88 kb</text>
<text x="202.35" y="351.4" font-size="6.6" fill="#222" font-weight="normal" text-anchor="middle" font-style="normal" textLength="25.91" lengthAdjust="spacingAndGlyphs">188.34 kb</text>
<text x="236.34" y="271.6" font-size="6.6" fill="#222" font-weight="normal" text-anchor="middle" font-style="normal" textLength="29.19" lengthAdjust="spacingAndGlyphs">5294.12 kb</text>
<text x="236.34" y="351.4" font-size="6.6" fill="#222" font-weight="normal" text-anchor="middle" font-style="normal" textLength="25.48" lengthAdjust="spacingAndGlyphs">211.88 kb</text>
<text x="270.33" y="271.6" font-size="6.6" fill="#222" font-weight="normal" text-anchor="middle" font-style="normal" textLength="29.19" lengthAdjust="spacingAndGlyphs">5882.35 kb</text>
<text x="270.33" y="351.4" font-size="6.6" fill="#222" font-weight="normal" text-anchor="middle" font-style="normal" textLength="25.91" lengthAdjust="spacingAndGlyphs">235.42 kb</text>
<text x="304.32" y="271.6" font-size="6.6" fill="#222" font-weight="normal" text-anchor="middle" font-style="normal" textLength="29.19" lengthAdjust="spacingAndGlyphs">6470.59 kb</text>
<text x="304.32" y="351.4" font-size="6.6" fill="#222" font-weight="normal" text-anchor="middle" font-style="normal" textLength="25.91" lengthAdjust="spacingAndGlyphs">258.96 kb</text>
<text x="338.31" y="271.6" font-size="6.6" fill="#222" font-weight="normal" text-anchor="middle" font-style="normal" textLength="29.19" lengthAdjust="spacingAndGlyphs">7058.82 kb</text>
<text x="338.31" y="351.4" font-size="6.6" fill="#222" font-weight="normal" text-anchor="middle" font-style="normal" textLength="25.91" lengthAdjust="spacingAndGlyphs">282.50 kb</text>
<text x="372.3" y="271.6" font-size="6.6" fill="#222" font-weight="normal" text-anchor="middle" font-style="normal" textLength="29.19" lengthAdjust="spacingAndGlyphs">7647.06 kb</text>
<text x="372.3" y="351.4" font-size="6.6" fill="#222" font-weight="normal" text-anchor="middle" font-style="normal" textLength="25.91" lengthAdjust="spacingAndGlyphs">306.05 kb</text>
<text x="406.29" y="271.6" font-size="6.6" fill="#222" font-weight="normal" text-anchor="middle" font-style="normal" textLength="29.19" lengthAdjust="spacingAndGlyphs">8235.29 kb</text>
<text x="406.29" y="351.4" font-size="6.6" fill="#222" font-weight="normal" text-anchor="middle" font-style="normal" textLength="25.91" lengthAdjust="spacingAndGlyphs">329.59 kb</text>
<text x="440.28" y="271.6" font-size="6.6" fill="#222" font-weight="normal" text-anchor="middle" font-style="normal" textLength="29.19" lengthAdjust="spacingAndGlyphs">8823.53 kb</text>
<text x="440.28" y="351.4" font-size="6.6" fill="#222" font-weight="normal" text-anchor="middle" font-style="normal" textLength="25.91" lengthAdjust="spacingAndGlyphs">353.13 kb</text>
<text x="474.27" y="271.6" font-size="6.6" fill="#222" font-weight="normal" text-anchor="middle" font-style="normal" textLength="28.76" lengthAdjust="spacingAndGlyphs">9411.76 kb</text>
<text x="474.27" y="351.4" font-size="6.6" fill="#222" font-weight="normal" text-anchor="middle" font-style="normal" textLength="25.91" lengthAdjust="spacingAndGlyphs">376.67 kb</text>
<text x="493.5" y="271.6" font-size="6.6" fill="#222" font-weight="normal" text-anchor="start" font-style="normal" textLength="16.4" lengthAdjust="spacingAndGlyphs">10000</text>
<text x="498" y="351.4" font-size="6.6" fill="#222" font-weight="normal" text-anchor="start" font-style="normal" textLength="11.48" lengthAdjust="spacingAndGlyphs">400.</text>
</g>
<line x1="21" y1="277.3" x2="508" y2="277.3" stroke="#222" stroke-width="1"/>
<line x1="21" y1="339.2" x2="508" y2="339.2" stroke="#222" stroke-width="1"/>
<line x1="32.4" y1="277.3" x2="32.4" y2="274.6" stroke="#222" stroke-width="0.8"/>
<line x1="32.4" y1="339.2" x2="32.4" y2="342" stroke="#222" stroke-width="0.8"/>
<line x1="66.39" y1="277.3" x2="66.39" y2="274.6" stroke="#222" stroke-width="0.8"/>
<line x1="66.39" y1="339.2" x2="66.39" y2="342" stroke="#222" stroke-width="0.8"/>
<line x1="100.38" y1="277.3" x2="100.38" y2="274.6" stroke="#222" stroke-width="0.8"/>
<line x1="100.38" y1="339.2" x2="100.38" y2="342" stroke="#222" stroke-width="0.8"/>
<line x1="134.37" y1="277.3" x2="134.37" y2="274.6" stroke="#222" stroke-width="0.8"/>
<line x1="134.37" y1="339.2" x2="134.37" y2="342" stroke="#222" stroke-width="0.8"/>
<line x1="168.36" y1="277.3" x2="168.36" y2="274.6" stroke="#222" stroke-width="0.8"/>
<line x1="168.36" y1="339.2" x2="168.36" y2="342" stroke="#222" stroke-width="0.8"/>
<line x1="202.35000000000002" y1="277.3" x2="202.35000000000002" y2="274.6" stroke="#222" stroke-width="0.8"/>
<line x1="202.35000000000002" y1="339.2" x2="202.35000000000002" y2="342" stroke="#222" stroke-width="0.8"/>
<line x1="236.34" y1="277.3" x2="236.34" y2="274.6" stroke="#222" stroke-width="0.8"/>
<line x1="236.34" y1="339.2" x2="236.34" y2="342" stroke="#222" stroke-width="0.8"/>
<line x1="270.33" y1="277.3" x2="270.33" y2="274.6" stroke="#222" stroke-width="0.8"/>
<line x1="270.33" y1="339.2" x2="270.33" y2="342" stroke="#222" stroke-width="0.8"/>
<line x1="304.32" y1="277.3" x2="304.32" y2="274.6" stroke="#222" stroke-width="0.8"/>
<line x1="304.32" y1="339.2" x2="304.32" y2="342" stroke="#222" stroke-width="0.8"/>
<line x1="338.31" y1="277.3" x2="338.31" y2="274.6" stroke="#222" stroke-width="0.8"/>
<line x1="338.31" y1="339.2" x2="338.31" y2="342" stroke="#222" stroke-width="0.8"/>
<line x1="372.3" y1="277.3" x2="372.3" y2="274.6" stroke="#222" stroke-width="0.8"/>
<line x1="372.3" y1="339.2" x2="372.3" y2="342" stroke="#222" stroke-width="0.8"/>
<line x1="406.29" y1="277.3" x2="406.29" y2="274.6" stroke="#222" stroke-width="0.8"/>
<line x1="406.29" y1="339.2" x2="406.29" y2="342" stroke="#222" stroke-width="0.8"/>
<line x1="440.28" y1="277.3" x2="440.28" y2="274.6" stroke="#222" stroke-width="0.8"/>
<line x1="440.28" y1="339.2" x2="440.28" y2="342" stroke="#222" stroke-width="0.8"/>
<line x1="474.27" y1="277.3" x2="474.27" y2="274.6" stroke="#222" stroke-width="0.8"/>
<line x1="474.27" y1="339.2" x2="474.27" y2="342" stroke="#222" stroke-width="0.8"/>
<rect x="21" y="282.8" width="486.3" height="13.5" fill="#efefef" stroke="none" stroke-width="1"/>
<rect x="21" y="321" width="486.3" height="14.3" fill="#efefef" stroke="none" stroke-width="1"/>
<line x1="60.2" y1="282.8" x2="60.2" y2="335.3" stroke="#b0b0b0" stroke-width="2.8"/>
<line x1="60.2" y1="282.8" x2="60.2" y2="296.3" stroke="#a0a0a0" stroke-width="2.8"/>
<line x1="60.2" y1="321" x2="60.2" y2="335.3" stroke="#c8d8b0" stroke-width="2.8"/>
<line x1="95.4" y1="282.8" x2="95.4" y2="335.3" stroke="#b0b0b0" stroke-width="0.9"/>
<line x1="95.4" y1="282.8" x2="95.4" y2="296.3" stroke="#bcd090" stroke-width="0.9"/>
<line x1="95.4" y1="321" x2="95.4" y2="335.3" stroke="#c8d8b0" stroke-width="0.9"/>
<line x1="108.1" y1="282.8" x2="108.1" y2="335.3" stroke="#b0b0b0" stroke-width="0.9"/>
<line x1="108.1" y1="282.8" x2="108.1" y2="296.3" stroke="#bcd090" stroke-width="0.9"/>
<line x1="108.1" y1="321" x2="108.1" y2="335.3" stroke="#c8d8b0" stroke-width="0.9"/>
<line x1="121.7" y1="282.8" x2="121.7" y2="335.3" stroke="#b0b0b0" stroke-width="0.9"/>
<line x1="121.7" y1="282.8" x2="121.7" y2="296.3" stroke="#bcd090" stroke-width="0.9"/>
<line x1="121.7" y1="321" x2="121.7" y2="335.3" stroke="#c8d8b0" stroke-width="0.9"/>
<line x1="134.4" y1="282.8" x2="134.4" y2="335.3" stroke="#b0b0b0" stroke-width="0.9"/>
<line x1="134.4" y1="282.8" x2="134.4" y2="296.3" stroke="#bcd090" stroke-width="0.9"/>
<line x1="134.4" y1="321" x2="134.4" y2="335.3" stroke="#c8d8b0" stroke-width="0.9"/>
<line x1="137.8" y1="282.8" x2="137.8" y2="335.3" stroke="#b0b0b0" stroke-width="0.9"/>
<line x1="137.8" y1="282.8" x2="137.8" y2="296.3" stroke="#bcd090" stroke-width="0.9"/>
<line x1="137.8" y1="321" x2="137.8" y2="335.3" stroke="#c8d8b0" stroke-width="0.9"/>
<line x1="145.4" y1="282.8" x2="145.4" y2="335.3" stroke="#b0b0b0" stroke-width="0.9"/>
<line x1="145.4" y1="282.8" x2="145.4" y2="296.3" stroke="#bcd090" stroke-width="0.9"/>
<line x1="145.4" y1="321" x2="145.4" y2="335.3" stroke="#c8d8b0" stroke-width="0.9"/>
<line x1="148" y1="282.8" x2="148" y2="335.3" stroke="#b0b0b0" stroke-width="0.9"/>
<line x1="148" y1="282.8" x2="148" y2="296.3" stroke="#bcd090" stroke-width="0.9"/>
<line x1="148" y1="321" x2="148" y2="335.3" stroke="#c8d8b0" stroke-width="0.9"/>
<line x1="151.4" y1="282.8" x2="151.4" y2="335.3" stroke="#b0b0b0" stroke-width="0.9"/>
<line x1="151.4" y1="282.8" x2="151.4" y2="296.3" stroke="#bcd090" stroke-width="0.9"/>
<line x1="151.4" y1="321" x2="151.4" y2="335.3" stroke="#c8d8b0" stroke-width="0.9"/>
<line x1="164" y1="282.8" x2="164" y2="335.3" stroke="#b0b0b0" stroke-width="0.9"/>
<line x1="164" y1="282.8" x2="164" y2="296.3" stroke="#bcd090" stroke-width="0.9"/>
<line x1="164" y1="321" x2="164" y2="335.3" stroke="#c8d8b0" stroke-width="0.9"/>
<line x1="168.3" y1="282.8" x2="168.3" y2="335.3" stroke="#b0b0b0" stroke-width="0.9"/>
<line x1="168.3" y1="282.8" x2="168.3" y2="296.3" stroke="#bcd090" stroke-width="0.9"/>
<line x1="168.3" y1="321" x2="168.3" y2="335.3" stroke="#c8d8b0" stroke-width="0.9"/>
<line x1="181" y1="282.8" x2="181" y2="335.3" stroke="#b0b0b0" stroke-width="0.9"/>
<line x1="181" y1="282.8" x2="181" y2="296.3" stroke="#bcd090" stroke-width="0.9"/>
<line x1="181" y1="321" x2="181" y2="335.3" stroke="#c8d8b0" stroke-width="0.9"/>
<line x1="193.7" y1="282.8" x2="193.7" y2="335.3" stroke="#b0b0b0" stroke-width="0.9"/>
<line x1="193.7" y1="282.8" x2="193.7" y2="296.3" stroke="#bcd090" stroke-width="0.9"/>
<line x1="193.7" y1="321" x2="193.7" y2="335.3" stroke="#c8d8b0" stroke-width="0.9"/>
<line x1="228.9" y1="282.8" x2="228.9" y2="296.3" stroke="#c5d8a5" stroke-width="0.9"/>
<line x1="273.5" y1="282.8" x2="273.5" y2="296.3" stroke="#c5d8a5" stroke-width="0.9"/>
<line x1="289.6" y1="282.8" x2="289.6" y2="296.3" stroke="#c5d8a5" stroke-width="0.9"/>
<line x1="293.7" y1="282.8" x2="293.7" y2="296.3" stroke="#b0b0b0" stroke-width="0.9"/>
<line x1="296.4" y1="282.8" x2="296.4" y2="296.3" stroke="#c5d8a5" stroke-width="0.9"/>
<line x1="305.8" y1="282.8" x2="305.8" y2="296.3" stroke="#b0b0b0" stroke-width="0.9"/>
<line x1="318" y1="282.8" x2="318" y2="296.3" stroke="#c5d8a5" stroke-width="0.9"/>
<line x1="320.6" y1="282.8" x2="320.6" y2="296.3" stroke="#b0b0b0" stroke-width="0.9"/>
<line x1="323.3" y1="282.8" x2="323.3" y2="296.3" stroke="#b0b0b0" stroke-width="0.9"/>
<line x1="332.8" y1="282.8" x2="332.8" y2="296.3" stroke="#b8b8b8" stroke-width="0.9"/>
<line x1="345.5" y1="282.8" x2="345.5" y2="296.3" stroke="#c8d8a8" stroke-width="0.9"/>
<line x1="354.2" y1="282.8" x2="354.2" y2="296.3" stroke="#c8d8a8" stroke-width="0.9"/>
<line x1="358.3" y1="282.8" x2="358.3" y2="296.3" stroke="#b0b0b0" stroke-width="0.9"/>
<line x1="375.8" y1="282.8" x2="375.8" y2="296.3" stroke="#c8d8a8" stroke-width="0.9"/>
<line x1="382.5" y1="282.8" x2="382.5" y2="296.3" stroke="#909090" stroke-width="0.9"/>
<line x1="385.2" y1="282.8" x2="385.2" y2="296.3" stroke="#909090" stroke-width="0.9"/>
<line x1="418.5" y1="282.8" x2="418.5" y2="296.3" stroke="#888" stroke-width="0.9"/>
<line x1="420.8" y1="282.8" x2="420.8" y2="296.3" stroke="#888" stroke-width="0.9"/>
<line x1="427.2" y1="282.8" x2="427.2" y2="296.3" stroke="#888" stroke-width="0.9"/>
<line x1="449.6" y1="282.8" x2="449.6" y2="296.3" stroke="#666" stroke-width="0.9"/>
<line x1="458.8" y1="282.8" x2="458.8" y2="296.3" stroke="#999" stroke-width="0.9"/>
<line x1="461.8" y1="282.8" x2="461.8" y2="296.3" stroke="#888" stroke-width="0.9"/>
<line x1="480.8" y1="282.8" x2="480.8" y2="296.3" stroke="#999" stroke-width="0.9"/>
<line x1="494.6" y1="282.8" x2="494.6" y2="296.3" stroke="#888" stroke-width="0.9"/>
<line x1="500.4" y1="282.8" x2="500.4" y2="296.3" stroke="#888" stroke-width="0.9"/>
<line x1="503.4" y1="282.8" x2="503.4" y2="296.3" stroke="#888" stroke-width="0.9"/>
<line x1="505.7" y1="282.8" x2="505.7" y2="296.3" stroke="#888" stroke-width="0.9"/>
<line x1="227.8" y1="321" x2="227.8" y2="335.3" stroke="#c8c8c8" stroke-width="0.9"/>
<line x1="237" y1="321" x2="237" y2="335.3" stroke="#9a9a9a" stroke-width="0.9"/>
<line x1="250.4" y1="321" x2="250.4" y2="335.3" stroke="#9a9a9a" stroke-width="0.9"/>
<line x1="253.9" y1="321" x2="253.9" y2="335.3" stroke="#9a9a9a" stroke-width="0.9"/>
<line x1="265.8" y1="321" x2="265.8" y2="335.3" stroke="#9a9a9a" stroke-width="0.9"/>
<line x1="268.1" y1="321" x2="268.1" y2="335.3" stroke="#9a9a9a" stroke-width="0.9"/>
<line x1="271.2" y1="321" x2="271.2" y2="335.3" stroke="#a0a0a0" stroke-width="0.9"/>
<line x1="279.6" y1="321" x2="279.6" y2="335.3" stroke="#9a9a9a" stroke-width="0.9"/>
<line x1="282.7" y1="321" x2="282.7" y2="335.3" stroke="#9a9a9a" stroke-width="0.9"/>
<line x1="295.8" y1="321" x2="295.8" y2="335.3" stroke="#9a9a9a" stroke-width="0.9"/>
<line x1="309.7" y1="321" x2="309.7" y2="335.3" stroke="#9a9a9a" stroke-width="0.9"/>
<line x1="322.3" y1="321" x2="322.3" y2="335.3" stroke="#9a9a9a" stroke-width="0.9"/>
<line x1="357.3" y1="321" x2="357.3" y2="335.3" stroke="#b8cc98" stroke-width="0.9"/>
<line x1="400.5" y1="321" x2="400.5" y2="335.3" stroke="#c5d8a5" stroke-width="0.9"/>
<line x1="417" y1="321" x2="417" y2="335.3" stroke="#c5d8a5" stroke-width="0.9"/>
<line x1="418.4" y1="321" x2="418.4" y2="335.3" stroke="#c5d8a5" stroke-width="0.9"/>
<line x1="423.3" y1="321" x2="423.3" y2="335.3" stroke="#aaa" stroke-width="0.9"/>
<line x1="425" y1="321" x2="425" y2="335.3" stroke="#c5d8a5" stroke-width="0.9"/>
<line x1="433" y1="321" x2="433" y2="335.3" stroke="#c5d8a5" stroke-width="0.9"/>
<line x1="444.6" y1="321" x2="444.6" y2="335.3" stroke="#c5d8a5" stroke-width="0.9"/>
<line x1="447.8" y1="321" x2="447.8" y2="335.3" stroke="#aaa" stroke-width="0.9"/>
<line x1="459.3" y1="321" x2="459.3" y2="335.3" stroke="#c5d8a5" stroke-width="0.9"/>
<line x1="472.3" y1="321" x2="472.3" y2="335.3" stroke="#c5d8a5" stroke-width="0.9"/>
<line x1="480.5" y1="321" x2="480.5" y2="335.3" stroke="#c5d8a5" stroke-width="0.9"/>
<line x1="483.8" y1="321" x2="483.8" y2="335.3" stroke="#c5d8a5" stroke-width="0.9"/>
<line x1="502.4" y1="321" x2="502.4" y2="335.3" stroke="#c5d8a5" stroke-width="0.9"/>
<path d="M228.5,296.3 L228.5,321 L356,321 Z" fill="#f4a6a0"/>
<line x1="228.5" y1="296.3" x2="356" y2="321" stroke="#7a4a4a" stroke-width="1.0"/>
<line x1="228.4" y1="296.3" x2="228.4" y2="321" stroke="#7a5a5a" stroke-width="0.8"/>
<line x1="273.5" y1="296.3" x2="400.5" y2="321" stroke="#666" stroke-width="0.6"/>
<line x1="274.7" y1="296.3" x2="401.7" y2="321" stroke="#999" stroke-width="0.5"/>
<line x1="289.6" y1="296.3" x2="417" y2="321" stroke="#666" stroke-width="0.6"/>
<line x1="290.8" y1="296.3" x2="418.2" y2="321" stroke="#999" stroke-width="0.5"/>
<line x1="293.7" y1="296.3" x2="423.3" y2="321" stroke="#666" stroke-width="0.6"/>
<line x1="294.9" y1="296.3" x2="424.5" y2="321" stroke="#999" stroke-width="0.5"/>
<line x1="296.4" y1="296.3" x2="425" y2="321" stroke="#666" stroke-width="0.6"/>
<line x1="297.59999999999997" y1="296.3" x2="426.2" y2="321" stroke="#999" stroke-width="0.5"/>
<line x1="305.8" y1="296.3" x2="433" y2="321" stroke="#666" stroke-width="0.6"/>
<line x1="307.0" y1="296.3" x2="434.2" y2="321" stroke="#999" stroke-width="0.5"/>
<line x1="318" y1="296.3" x2="444.6" y2="321" stroke="#666" stroke-width="0.6"/>
<line x1="319.2" y1="296.3" x2="445.8" y2="321" stroke="#999" stroke-width="0.5"/>
<line x1="320.6" y1="296.3" x2="447.8" y2="321" stroke="#666" stroke-width="0.6"/>
<line x1="321.8" y1="296.3" x2="449.0" y2="321" stroke="#999" stroke-width="0.5"/>
<line x1="323.3" y1="296.3" x2="450" y2="321" stroke="#666" stroke-width="0.6"/>
<line x1="324.5" y1="296.3" x2="451.2" y2="321" stroke="#999" stroke-width="0.5"/>
<line x1="332.8" y1="296.3" x2="459.3" y2="321" stroke="#666" stroke-width="0.6"/>
<line x1="334.0" y1="296.3" x2="460.5" y2="321" stroke="#999" stroke-width="0.5"/>
<line x1="346.3" y1="296.3" x2="472.3" y2="321" stroke="#666" stroke-width="0.6"/>
<line x1="347.5" y1="296.3" x2="473.5" y2="321" stroke="#999" stroke-width="0.5"/>
<line x1="353" y1="296.3" x2="480.5" y2="321" stroke="#666" stroke-width="0.6"/>
<line x1="354.2" y1="296.3" x2="481.7" y2="321" stroke="#999" stroke-width="0.5"/>
<line x1="355.7" y1="296.3" x2="483.8" y2="321" stroke="#666" stroke-width="0.6"/>
<line x1="356.9" y1="296.3" x2="485.0" y2="321" stroke="#999" stroke-width="0.5"/>
<line x1="376" y1="296.3" x2="502.4" y2="321" stroke="#666" stroke-width="0.6"/>
<line x1="377.2" y1="296.3" x2="503.59999999999997" y2="321" stroke="#999" stroke-width="0.5"/>
<text x="264.4" y="361.5" font-size="6.6" fill="#1a1a1a" font-weight="normal" text-anchor="middle" font-style="normal" textLength="116.4" lengthAdjust="spacingAndGlyphs" stroke="#1a1a1a" stroke-width="0.1">Optical genome mapping structure variant view</text>
<path d="M45,383 L130,383 L235.6,400.6 Z" fill="#8cc4e4" fill-opacity="0.1"/>
<path d="M235.6,400.6 L340,419 L424,419 Z" fill="#8cc4e4" fill-opacity="0.2"/>
<line x1="45.0" y1="383" x2="424.0" y2="419" stroke="#5ab0d8" stroke-width="0.5" stroke-opacity="0.6"/>
<line x1="57.05" y1="383" x2="411.95" y2="419" stroke="#5ab0d8" stroke-width="0.5" stroke-opacity="0.6"/>
<line x1="69.1" y1="383" x2="399.9" y2="419" stroke="#5ab0d8" stroke-width="0.5" stroke-opacity="0.6"/>
<line x1="81.15" y1="383" x2="387.85" y2="419" stroke="#5ab0d8" stroke-width="0.5" stroke-opacity="0.6"/>
<line x1="93.2" y1="383" x2="375.8" y2="419" stroke="#5ab0d8" stroke-width="0.5" stroke-opacity="0.6"/>
<line x1="105.25" y1="383" x2="363.75" y2="419" stroke="#5ab0d8" stroke-width="0.5" stroke-opacity="0.6"/>
<line x1="117.30000000000001" y1="383" x2="351.7" y2="419" stroke="#5ab0d8" stroke-width="0.5" stroke-opacity="0.6"/>
<line x1="129.35000000000002" y1="383" x2="339.65" y2="419" stroke="#5ab0d8" stroke-width="0.5" stroke-opacity="0.6"/>
<line x1="157.85" y1="383" x2="311.75" y2="419" stroke="#5ab0d8" stroke-width="0.55" stroke-opacity="0.75"/>
<line x1="174.1" y1="383" x2="295.8" y2="419" stroke="#5ab0d8" stroke-width="0.55" stroke-opacity="0.75"/>
<line x1="186.1" y1="383" x2="283.7" y2="419" stroke="#5ab0d8" stroke-width="0.55" stroke-opacity="0.75"/>
<line x1="198.2" y1="383" x2="271.5" y2="419" stroke="#5ab0d8" stroke-width="0.55" stroke-opacity="0.75"/>
<path d="M265.8,382.6 L424,419.5 L265.8,419.5 Z" fill="#f6a39c" fill-opacity="0.92"/>
<path d="M265.8,403 L405,415 L265.8,411.5 Z" fill="#a89aa8" fill-opacity="0.35"/>
<line x1="282.5" y1="384" x2="448" y2="419" stroke="#9a9a9a" stroke-width="0.6"/>
<line x1="270.5" y1="384" x2="436" y2="419" stroke="#9a9a9a" stroke-width="0.5"/>
<line x1="285" y1="384.5" x2="432" y2="415" stroke="#7ab870" stroke-width="0.6"/>
<rect x="265.6" y="415" width="166.1" height="17.7" fill="none" stroke="#80bc78" stroke-width="0.8"/>
<line x1="33.1" y1="384" x2="33.1" y2="419" stroke="#b5b5b5" stroke-width="0.6"/>
<line x1="57.1" y1="384" x2="57.1" y2="419" stroke="#b5b5b5" stroke-width="0.6"/>
<line x1="81.2" y1="384" x2="81.2" y2="419" stroke="#b5b5b5" stroke-width="0.6"/>
<line x1="105.3" y1="384" x2="105.3" y2="419" stroke="#b5b5b5" stroke-width="0.6"/>
<line x1="157.85" y1="384" x2="157.85" y2="419" stroke="#b5b5b5" stroke-width="0.6"/>
<line x1="186.1" y1="384" x2="186.1" y2="419" stroke="#b5b5b5" stroke-width="0.6"/>
<line x1="210.2" y1="384" x2="210.2" y2="419" stroke="#b5b5b5" stroke-width="0.6"/>
<line x1="234.3" y1="384" x2="234.3" y2="419" stroke="#b5b5b5" stroke-width="0.6"/>
<line x1="258.4" y1="384" x2="258.4" y2="419" stroke="#b5b5b5" stroke-width="0.6"/>
<line x1="23.2" y1="381.5" x2="31.25" y2="381.5" stroke="#8a9aaa" stroke-width="0.6"/>
<path d="M29.05,380.4 l2.2,1.1 l-2.2,1.1 z" fill="#333"/>
<line x1="35.25" y1="381.5" x2="43.3" y2="381.5" stroke="#8a9aaa" stroke-width="0.6"/>
<path d="M41.099999999999994,380.4 l2.2,1.1 l-2.2,1.1 z" fill="#333"/>
<line x1="47.3" y1="381.5" x2="55.35000000000001" y2="381.5" stroke="#5aaad8" stroke-width="0.6"/>
<path d="M53.150000000000006,380.4 l2.2,1.1 l-2.2,1.1 z" fill="#333"/>
<line x1="59.35000000000001" y1="381.5" x2="67.4" y2="381.5" stroke="#5aaad8" stroke-width="0.6"/>
<path d="M65.2,380.4 l2.2,1.1 l-2.2,1.1 z" fill="#333"/>
<line x1="71.4" y1="381.5" x2="79.45" y2="381.5" stroke="#5aaad8" stroke-width="0.6"/>
<path d="M77.25,380.4 l2.2,1.1 l-2.2,1.1 z" fill="#333"/>
<line x1="83.45" y1="381.5" x2="91.50000000000001" y2="381.5" stroke="#5aaad8" stroke-width="0.6"/>
<path d="M89.30000000000001,380.4 l2.2,1.1 l-2.2,1.1 z" fill="#333"/>
<line x1="95.50000000000001" y1="381.5" x2="103.55000000000001" y2="381.5" stroke="#5aaad8" stroke-width="0.6"/>
<path d="M101.35000000000001,380.4 l2.2,1.1 l-2.2,1.1 z" fill="#333"/>
<line x1="107.55000000000001" y1="381.5" x2="115.60000000000001" y2="381.5" stroke="#5aaad8" stroke-width="0.6"/>
<path d="M113.4,380.4 l2.2,1.1 l-2.2,1.1 z" fill="#333"/>
<line x1="119.60000000000001" y1="381.5" x2="127.65" y2="381.5" stroke="#8a9aaa" stroke-width="0.6"/>
<path d="M125.45,380.4 l2.2,1.1 l-2.2,1.1 z" fill="#333"/>
<line x1="131.65" y1="381.5" x2="145.85" y2="381.5" stroke="#8a9aaa" stroke-width="0.6"/>
<path d="M143.65,380.4 l2.2,1.1 l-2.2,1.1 z" fill="#333"/>
<line x1="169.85" y1="381.5" x2="172.1" y2="381.5" stroke="#8a9aaa" stroke-width="0.6"/>
<path d="M169.9,380.4 l2.2,1.1 l-2.2,1.1 z" fill="#333"/>
<line x1="176.1" y1="381.5" x2="184.1" y2="381.5" stroke="#c03040" stroke-width="0.6"/>
<path d="M181.9,380.4 l2.2,1.1 l-2.2,1.1 z" fill="#333"/>
<line x1="188.1" y1="381.5" x2="196.15" y2="381.5" stroke="#c03040" stroke-width="0.6"/>
<path d="M193.95000000000002,380.4 l2.2,1.1 l-2.2,1.1 z" fill="#333"/>
<line x1="200.15" y1="381.5" x2="208.2" y2="381.5" stroke="#c03040" stroke-width="0.6"/>
<path d="M206.0,380.4 l2.2,1.1 l-2.2,1.1 z" fill="#333"/>
<line x1="212.2" y1="381.5" x2="220.25" y2="381.5" stroke="#c03040" stroke-width="0.6"/>
<path d="M218.05,380.4 l2.2,1.1 l-2.2,1.1 z" fill="#333"/>
<line x1="224.25" y1="381.5" x2="232.3" y2="381.5" stroke="#c03040" stroke-width="0.6"/>
<path d="M230.10000000000002,380.4 l2.2,1.1 l-2.2,1.1 z" fill="#333"/>
<line x1="236.3" y1="381.5" x2="244.35" y2="381.5" stroke="#c03040" stroke-width="0.6"/>
<path d="M242.15,380.4 l2.2,1.1 l-2.2,1.1 z" fill="#333"/>
<line x1="248.35" y1="381.5" x2="256.4" y2="381.5" stroke="#c03040" stroke-width="0.6"/>
<path d="M254.2,380.4 l2.2,1.1 l-2.2,1.1 z" fill="#333"/>
<line x1="260.4" y1="381.5" x2="268.45" y2="381.5" stroke="#c03040" stroke-width="0.6"/>
<path d="M266.25,380.4 l2.2,1.1 l-2.2,1.1 z" fill="#333"/>
<line x1="272.45" y1="381.5" x2="280.5" y2="381.5" stroke="#c03040" stroke-width="0.6"/>
<path d="M278.3,380.4 l2.2,1.1 l-2.2,1.1 z" fill="#333"/>
<rect x="19.4" y="379.2" width="3.6" height="4.6" fill="#bfe2f5" stroke="#4aa3d8" stroke-width="0.8"/>
<text x="21.2" y="392.2" font-size="5.4" fill="#6ab4de" font-weight="normal" text-anchor="middle" font-style="normal">D1</text>
<rect x="31.45" y="379.2" width="3.6" height="4.6" fill="#c6d6ee" stroke="#3a3a7a" stroke-width="0.8"/>
<text x="33.25" y="392.2" font-size="5.4" fill="#6ab4de" font-weight="normal" text-anchor="middle" font-style="normal">D2</text>
<rect x="43.5" y="379.2" width="3.6" height="4.6" fill="#bfe2f5" stroke="#4aa3d8" stroke-width="0.8"/>
<text x="45.3" y="392.2" font-size="5.4" fill="#6ab4de" font-weight="normal" text-anchor="middle" font-style="normal">D3</text>
<rect x="55.55" y="379.2" width="3.6" height="4.6" fill="#bfe2f5" stroke="#4aa3d8" stroke-width="0.8"/>
<text x="57.35" y="392.2" font-size="5.4" fill="#6ab4de" font-weight="normal" text-anchor="middle" font-style="normal">D4</text>
<rect x="67.6" y="379.2" width="3.6" height="4.6" fill="#bfe2f5" stroke="#4aa3d8" stroke-width="0.8"/>
<text x="69.4" y="392.2" font-size="5.4" fill="#6ab4de" font-weight="normal" text-anchor="middle" font-style="normal">D5</text>
<rect x="79.65" y="379.2" width="3.6" height="4.6" fill="#bfe2f5" stroke="#4aa3d8" stroke-width="0.8"/>
<text x="81.45" y="392.2" font-size="5.4" fill="#6ab4de" font-weight="normal" text-anchor="middle" font-style="normal">D6</text>
<rect x="91.7" y="379.2" width="3.6" height="4.6" fill="#bfe2f5" stroke="#4aa3d8" stroke-width="0.8"/>
<text x="93.5" y="392.2" font-size="5.4" fill="#6ab4de" font-weight="normal" text-anchor="middle" font-style="normal">D7</text>
<rect x="103.75" y="379.2" width="3.6" height="4.6" fill="#bfe2f5" stroke="#4aa3d8" stroke-width="0.8"/>
<text x="105.55" y="392.2" font-size="5.4" fill="#6ab4de" font-weight="normal" text-anchor="middle" font-style="normal">D8</text>
<rect x="115.8" y="379.2" width="3.6" height="4.6" fill="#bfe2f5" stroke="#4aa3d8" stroke-width="0.8"/>
<text x="117.6" y="392.2" font-size="5.4" fill="#6ab4de" font-weight="normal" text-anchor="middle" font-style="normal">D9</text>
<rect x="127.85" y="379.2" width="3.6" height="4.6" fill="#fbeee2" stroke="#b07a4a" stroke-width="0.8"/>
<text x="129.65" y="392.2" font-size="5.4" fill="#6ab4de" font-weight="normal" text-anchor="middle" font-style="normal">D10</text>
<rect x="146.5" y="379.4" width="22.7" height="4.2" fill="#7c7c7c" stroke="#4a4a4a" stroke-width="0.7" rx="0.6"/>
<text x="157.85" y="392.2" font-size="5.4" fill="#b0b0b0" font-weight="normal" text-anchor="middle" font-style="normal" textLength="23.5" lengthAdjust="spacingAndGlyphs">TMEM50A</text>
<rect x="172.3" y="379.2" width="3.6" height="4.6" fill="#fbeee2" stroke="#b07a4a" stroke-width="0.8"/>
<text x="174.1" y="392.2" font-size="5.4" fill="#d2404e" font-weight="normal" text-anchor="middle" font-style="normal" textLength="10.5" lengthAdjust="spacingAndGlyphs">CE10</text>
<rect x="184.3" y="379.2" width="3.6" height="4.6" fill="#f5c0c5" stroke="#d23a4a" stroke-width="0.8"/>
<text x="186.1" y="392.2" font-size="5.4" fill="#d2404e" font-weight="normal" text-anchor="middle" font-style="normal" textLength="8.6" lengthAdjust="spacingAndGlyphs">CE9</text>
<rect x="196.35" y="379.2" width="3.6" height="4.6" fill="#f5c0c5" stroke="#d23a4a" stroke-width="0.8"/>
<text x="198.15" y="392.2" font-size="5.4" fill="#d2404e" font-weight="normal" text-anchor="middle" font-style="normal" textLength="8.6" lengthAdjust="spacingAndGlyphs">CE8</text>
<rect x="208.4" y="379.2" width="3.6" height="4.6" fill="#f5c0c5" stroke="#d23a4a" stroke-width="0.8"/>
<text x="210.2" y="392.2" font-size="5.4" fill="#d2404e" font-weight="normal" text-anchor="middle" font-style="normal" textLength="8.6" lengthAdjust="spacingAndGlyphs">CE7</text>
<rect x="220.45" y="379.2" width="3.6" height="4.6" fill="#f5c0c5" stroke="#d23a4a" stroke-width="0.8"/>
<text x="222.25" y="392.2" font-size="5.4" fill="#d2404e" font-weight="normal" text-anchor="middle" font-style="normal" textLength="8.6" lengthAdjust="spacingAndGlyphs">CE6</text>
<rect x="232.5" y="379.2" width="3.6" height="4.6" fill="#f5c0c5" stroke="#d23a4a" stroke-width="0.8"/>
<text x="234.3" y="392.2" font-size="5.4" fill="#d2404e" font-weight="normal" text-anchor="middle" font-style="normal" textLength="8.6" lengthAdjust="spacingAndGlyphs">CE5</text>
<rect x="244.55" y="379.2" width="3.6" height="4.6" fill="#f5c0c5" stroke="#d23a4a" stroke-width="0.8"/>
<text x="246.35" y="392.2" font-size="5.4" fill="#d2404e" font-weight="normal" text-anchor="middle" font-style="normal" textLength="8.6" lengthAdjust="spacingAndGlyphs">CE4</text>
<rect x="256.6" y="379.2" width="3.6" height="4.6" fill="#f5c0c5" stroke="#d23a4a" stroke-width="0.8"/>
<text x="258.4" y="392.2" font-size="5.4" fill="#d2404e" font-weight="normal" text-anchor="middle" font-style="normal" textLength="8.6" lengthAdjust="spacingAndGlyphs">CE3</text>
<rect x="268.65" y="379.2" width="3.6" height="4.6" fill="#c6d6ee" stroke="#3a3a7a" stroke-width="0.8"/>
<text x="270.45" y="392.2" font-size="5.4" fill="#d2404e" font-weight="normal" text-anchor="middle" font-style="normal" textLength="8.6" lengthAdjust="spacingAndGlyphs">CE2</text>
<rect x="280.7" y="379.2" width="3.6" height="4.6" fill="#f5c0c5" stroke="#d23a4a" stroke-width="0.8"/>
<text x="282.5" y="392.2" font-size="5.4" fill="#d2404e" font-weight="normal" text-anchor="middle" font-style="normal" textLength="8.6" lengthAdjust="spacingAndGlyphs">CE1</text>
<text x="293.8" y="383.8" font-size="6.6" fill="#222" textLength="76" lengthAdjust="spacingAndGlyphs">reference <tspan font-style="italic">RHD&amp;RHCE</tspan> gene</text>
<line x1="23.2" y1="421.5" x2="31.25" y2="421.5" stroke="#8a9aaa" stroke-width="0.6"/>
<path d="M29.05,420.4 l2.2,1.1 l-2.2,1.1 z" fill="#333"/>
<line x1="35.25" y1="421.5" x2="43.3" y2="421.5" stroke="#8a9aaa" stroke-width="0.6"/>
<path d="M41.099999999999994,420.4 l2.2,1.1 l-2.2,1.1 z" fill="#333"/>
<line x1="47.3" y1="421.5" x2="55.35000000000001" y2="421.5" stroke="#5aaad8" stroke-width="0.6"/>
<path d="M53.150000000000006,420.4 l2.2,1.1 l-2.2,1.1 z" fill="#333"/>
<line x1="59.35000000000001" y1="421.5" x2="67.4" y2="421.5" stroke="#5aaad8" stroke-width="0.6"/>
<path d="M65.2,420.4 l2.2,1.1 l-2.2,1.1 z" fill="#333"/>
<line x1="71.4" y1="421.5" x2="79.45" y2="421.5" stroke="#5aaad8" stroke-width="0.6"/>
<path d="M77.25,420.4 l2.2,1.1 l-2.2,1.1 z" fill="#333"/>
<line x1="83.45" y1="421.5" x2="91.50000000000001" y2="421.5" stroke="#5aaad8" stroke-width="0.6"/>
<path d="M89.30000000000001,420.4 l2.2,1.1 l-2.2,1.1 z" fill="#333"/>
<line x1="95.50000000000001" y1="421.5" x2="103.55000000000001" y2="421.5" stroke="#5aaad8" stroke-width="0.6"/>
<path d="M101.35000000000001,420.4 l2.2,1.1 l-2.2,1.1 z" fill="#333"/>
<line x1="107.55000000000001" y1="421.5" x2="115.60000000000001" y2="421.5" stroke="#5aaad8" stroke-width="0.6"/>
<path d="M113.4,420.4 l2.2,1.1 l-2.2,1.1 z" fill="#333"/>
<line x1="119.60000000000001" y1="421.5" x2="127.65" y2="421.5" stroke="#8a9aaa" stroke-width="0.6"/>
<path d="M125.45,420.4 l2.2,1.1 l-2.2,1.1 z" fill="#333"/>
<line x1="131.65" y1="421.5" x2="145.85" y2="421.5" stroke="#8a9aaa" stroke-width="0.6"/>
<path d="M143.65,420.4 l2.2,1.1 l-2.2,1.1 z" fill="#333"/>
<line x1="169.85" y1="421.5" x2="172.1" y2="421.5" stroke="#8a9aaa" stroke-width="0.6"/>
<path d="M169.9,420.4 l2.2,1.1 l-2.2,1.1 z" fill="#333"/>
<line x1="176.1" y1="421.5" x2="184.1" y2="421.5" stroke="#c03040" stroke-width="0.6"/>
<path d="M181.9,420.4 l2.2,1.1 l-2.2,1.1 z" fill="#333"/>
<line x1="188.1" y1="421.5" x2="196.15" y2="421.5" stroke="#c03040" stroke-width="0.6"/>
<path d="M193.95000000000002,420.4 l2.2,1.1 l-2.2,1.1 z" fill="#333"/>
<line x1="200.15" y1="421.5" x2="208.2" y2="421.5" stroke="#c03040" stroke-width="0.6"/>
<path d="M206.0,420.4 l2.2,1.1 l-2.2,1.1 z" fill="#333"/>
<line x1="212.2" y1="421.5" x2="220.25" y2="421.5" stroke="#c03040" stroke-width="0.6"/>
<path d="M218.05,420.4 l2.2,1.1 l-2.2,1.1 z" fill="#333"/>
<line x1="224.25" y1="421.5" x2="232.3" y2="421.5" stroke="#c03040" stroke-width="0.6"/>
<path d="M230.10000000000002,420.4 l2.2,1.1 l-2.2,1.1 z" fill="#333"/>
<line x1="236.3" y1="421.5" x2="244.35" y2="421.5" stroke="#c03040" stroke-width="0.6"/>
<path d="M242.15,420.4 l2.2,1.1 l-2.2,1.1 z" fill="#333"/>
<line x1="248.35" y1="421.5" x2="256.4" y2="421.5" stroke="#c03040" stroke-width="0.6"/>
<path d="M254.2,420.4 l2.2,1.1 l-2.2,1.1 z" fill="#333"/>
<line x1="260.4" y1="421.5" x2="269.5" y2="421.5" stroke="#c03040" stroke-width="0.6"/>
<path d="M262.59999999999997,420.4 l-2.2,1.1 l2.2,1.1 z" fill="#333"/>
<line x1="273.5" y1="421.5" x2="281.7" y2="421.5" stroke="#c03040" stroke-width="0.6"/>
<path d="M275.7,420.4 l-2.2,1.1 l2.2,1.1 z" fill="#333"/>
<line x1="285.7" y1="421.5" x2="293.8" y2="421.5" stroke="#c03040" stroke-width="0.6"/>
<path d="M287.9,420.4 l-2.2,1.1 l2.2,1.1 z" fill="#333"/>
<line x1="297.8" y1="421.5" x2="299.75" y2="421.5" stroke="#8a9aaa" stroke-width="0.6"/>
<path d="M300.0,420.4 l-2.2,1.1 l2.2,1.1 z" fill="#333"/>
<line x1="323.75" y1="421.5" x2="337.7" y2="421.5" stroke="#8a9aaa" stroke-width="0.6"/>
<path d="M325.95,420.4 l-2.2,1.1 l2.2,1.1 z" fill="#333"/>
<line x1="341.7" y1="421.5" x2="349.75" y2="421.5" stroke="#8a9aaa" stroke-width="0.6"/>
<path d="M343.9,420.4 l-2.2,1.1 l2.2,1.1 z" fill="#333"/>
<line x1="353.75" y1="421.5" x2="361.8" y2="421.5" stroke="#5aaad8" stroke-width="0.6"/>
<path d="M355.95,420.4 l-2.2,1.1 l2.2,1.1 z" fill="#333"/>
<line x1="365.8" y1="421.5" x2="373.85" y2="421.5" stroke="#5aaad8" stroke-width="0.6"/>
<path d="M368.0,420.4 l-2.2,1.1 l2.2,1.1 z" fill="#333"/>
<line x1="377.85" y1="421.5" x2="385.9" y2="421.5" stroke="#5aaad8" stroke-width="0.6"/>
<path d="M380.05,420.4 l-2.2,1.1 l2.2,1.1 z" fill="#333"/>
<line x1="389.9" y1="421.5" x2="397.95" y2="421.5" stroke="#5aaad8" stroke-width="0.6"/>
<path d="M392.09999999999997,420.4 l-2.2,1.1 l2.2,1.1 z" fill="#333"/>
<line x1="401.95" y1="421.5" x2="410.0" y2="421.5" stroke="#5aaad8" stroke-width="0.6"/>
<path d="M404.15,420.4 l-2.2,1.1 l2.2,1.1 z" fill="#333"/>
<line x1="414.0" y1="421.5" x2="422.05" y2="421.5" stroke="#5aaad8" stroke-width="0.6"/>
<path d="M416.2,420.4 l-2.2,1.1 l2.2,1.1 z" fill="#333"/>
<line x1="426.05" y1="421.5" x2="434" y2="421.5" stroke="#8a9aaa" stroke-width="0.6"/>
<path d="M431.8,420.4 l2.2,1.1 l-2.2,1.1 z" fill="#333"/>
<line x1="438" y1="421.5" x2="446.2" y2="421.5" stroke="#c03040" stroke-width="0.6"/>
<path d="M444.0,420.4 l2.2,1.1 l-2.2,1.1 z" fill="#333"/>
<rect x="19.4" y="419.2" width="3.6" height="4.6" fill="#bfe2f5" stroke="#4aa3d8" stroke-width="0.8"/>
<text x="21.2" y="432" font-size="5.4" fill="#6ab4de" font-weight="normal" text-anchor="middle" font-style="normal">D1</text>
<rect x="31.45" y="419.2" width="3.6" height="4.6" fill="#c6d6ee" stroke="#3a3a7a" stroke-width="0.8"/>
<text x="33.25" y="432" font-size="5.4" fill="#6ab4de" font-weight="normal" text-anchor="middle" font-style="normal">D2</text>
<rect x="43.5" y="419.2" width="3.6" height="4.6" fill="#bfe2f5" stroke="#4aa3d8" stroke-width="0.8"/>
<text x="45.3" y="432" font-size="5.4" fill="#6ab4de" font-weight="normal" text-anchor="middle" font-style="normal">D3</text>
<rect x="55.55" y="419.2" width="3.6" height="4.6" fill="#bfe2f5" stroke="#4aa3d8" stroke-width="0.8"/>
<text x="57.35" y="432" font-size="5.4" fill="#6ab4de" font-weight="normal" text-anchor="middle" font-style="normal">D4</text>
<rect x="67.6" y="419.2" width="3.6" height="4.6" fill="#bfe2f5" stroke="#4aa3d8" stroke-width="0.8"/>
<text x="69.4" y="432" font-size="5.4" fill="#6ab4de" font-weight="normal" text-anchor="middle" font-style="normal">D5</text>
<rect x="79.65" y="419.2" width="3.6" height="4.6" fill="#bfe2f5" stroke="#4aa3d8" stroke-width="0.8"/>
<text x="81.45" y="432" font-size="5.4" fill="#6ab4de" font-weight="normal" text-anchor="middle" font-style="normal">D6</text>
<rect x="91.7" y="419.2" width="3.6" height="4.6" fill="#bfe2f5" stroke="#4aa3d8" stroke-width="0.8"/>
<text x="93.5" y="432" font-size="5.4" fill="#6ab4de" font-weight="normal" text-anchor="middle" font-style="normal">D7</text>
<rect x="103.75" y="419.2" width="3.6" height="4.6" fill="#bfe2f5" stroke="#4aa3d8" stroke-width="0.8"/>
<text x="105.55" y="432" font-size="5.4" fill="#6ab4de" font-weight="normal" text-anchor="middle" font-style="normal">D8</text>
<rect x="115.8" y="419.2" width="3.6" height="4.6" fill="#bfe2f5" stroke="#4aa3d8" stroke-width="0.8"/>
<text x="117.6" y="432" font-size="5.4" fill="#6ab4de" font-weight="normal" text-anchor="middle" font-style="normal">D9</text>
<rect x="127.85" y="419.2" width="3.6" height="4.6" fill="#fbeee2" stroke="#b07a4a" stroke-width="0.8"/>
<text x="129.65" y="432" font-size="5.4" fill="#6ab4de" font-weight="normal" text-anchor="middle" font-style="normal">D10</text>
<rect x="146.5" y="419.4" width="22.7" height="4.2" fill="#7c7c7c" stroke="#4a4a4a" stroke-width="0.7" rx="0.6"/>
<text x="157.85" y="432" font-size="5.4" fill="#b0b0b0" font-weight="normal" text-anchor="middle" font-style="normal" textLength="23.5" lengthAdjust="spacingAndGlyphs">TMEM50A</text>
<rect x="172.3" y="419.2" width="3.6" height="4.6" fill="#fbeee2" stroke="#b07a4a" stroke-width="0.8"/>
<text x="174.1" y="432" font-size="5.4" fill="#d2404e" font-weight="normal" text-anchor="middle" font-style="normal" textLength="10.5" lengthAdjust="spacingAndGlyphs">CE10</text>
<rect x="184.3" y="419.2" width="3.6" height="4.6" fill="#f5c0c5" stroke="#d23a4a" stroke-width="0.8"/>
<text x="186.1" y="432" font-size="5.4" fill="#d2404e" font-weight="normal" text-anchor="middle" font-style="normal" textLength="8.6" lengthAdjust="spacingAndGlyphs">CE9</text>
<rect x="196.35" y="419.2" width="3.6" height="4.6" fill="#f5c0c5" stroke="#d23a4a" stroke-width="0.8"/>
<text x="198.15" y="432" font-size="5.4" fill="#d2404e" font-weight="normal" text-anchor="middle" font-style="normal" textLength="8.6" lengthAdjust="spacingAndGlyphs">CE8</text>
<rect x="208.4" y="419.2" width="3.6" height="4.6" fill="#f5c0c5" stroke="#d23a4a" stroke-width="0.8"/>
<text x="210.2" y="432" font-size="5.4" fill="#d2404e" font-weight="normal" text-anchor="middle" font-style="normal" textLength="8.6" lengthAdjust="spacingAndGlyphs">CE7</text>
<rect x="220.45" y="419.2" width="3.6" height="4.6" fill="#f5c0c5" stroke="#d23a4a" stroke-width="0.8"/>
<text x="222.25" y="432" font-size="5.4" fill="#d2404e" font-weight="normal" text-anchor="middle" font-style="normal" textLength="8.6" lengthAdjust="spacingAndGlyphs">CE6</text>
<rect x="232.5" y="419.2" width="3.6" height="4.6" fill="#f5c0c5" stroke="#d23a4a" stroke-width="0.8"/>
<text x="234.3" y="432" font-size="5.4" fill="#d2404e" font-weight="normal" text-anchor="middle" font-style="normal" textLength="8.6" lengthAdjust="spacingAndGlyphs">CE5</text>
<rect x="244.55" y="419.2" width="3.6" height="4.6" fill="#f5c0c5" stroke="#d23a4a" stroke-width="0.8"/>
<text x="246.35" y="432" font-size="5.4" fill="#d2404e" font-weight="normal" text-anchor="middle" font-style="normal" textLength="8.6" lengthAdjust="spacingAndGlyphs">CE4</text>
<rect x="256.6" y="419.2" width="3.6" height="4.6" fill="#f5c0c5" stroke="#d23a4a" stroke-width="0.8"/>
<text x="258.4" y="432" font-size="5.4" fill="#d2404e" font-weight="normal" text-anchor="middle" font-style="normal" textLength="8.6" lengthAdjust="spacingAndGlyphs">CE3</text>
<rect x="269.7" y="419.2" width="3.6" height="4.6" fill="#f5c0c5" stroke="#d23a4a" stroke-width="0.8"/>
<text x="271.5" y="432" font-size="5.4" fill="#d2404e" font-weight="normal" text-anchor="middle" font-style="normal" textLength="8.6" lengthAdjust="spacingAndGlyphs">CE8</text>
<rect x="281.9" y="419.2" width="3.6" height="4.6" fill="#f5c0c5" stroke="#d23a4a" stroke-width="0.8"/>
<text x="283.7" y="432" font-size="5.4" fill="#d2404e" font-weight="normal" text-anchor="middle" font-style="normal" textLength="8.6" lengthAdjust="spacingAndGlyphs">CE9</text>
<rect x="294.0" y="419.2" width="3.6" height="4.6" fill="#fbeee2" stroke="#b07a4a" stroke-width="0.8"/>
<text x="295.8" y="432" font-size="5.4" fill="#d2404e" font-weight="normal" text-anchor="middle" font-style="normal" textLength="10.5" lengthAdjust="spacingAndGlyphs">CE10</text>
<rect x="300.4" y="419.4" width="22.7" height="4.2" fill="#7c7c7c" stroke="#4a4a4a" stroke-width="0.7" rx="0.6"/>
<text x="311.75" y="432" font-size="5.4" fill="#b0b0b0" font-weight="normal" text-anchor="middle" font-style="normal" textLength="23.5" lengthAdjust="spacingAndGlyphs">TMEM50A</text>
<rect x="337.9" y="419.2" width="3.6" height="4.6" fill="#fbeee2" stroke="#c04848" stroke-width="0.8"/>
<text x="339.7" y="432" font-size="5.4" fill="#6ab4de" font-weight="normal" text-anchor="middle" font-style="normal">D10</text>
<rect x="349.95" y="419.2" width="3.6" height="4.6" fill="#bfe2f5" stroke="#4aa3d8" stroke-width="0.8"/>
<text x="351.75" y="432" font-size="5.4" fill="#6ab4de" font-weight="normal" text-anchor="middle" font-style="normal">D9</text>
<rect x="362.0" y="419.2" width="3.6" height="4.6" fill="#bfe2f5" stroke="#4aa3d8" stroke-width="0.8"/>
<text x="363.8" y="432" font-size="5.4" fill="#6ab4de" font-weight="normal" text-anchor="middle" font-style="normal">D8</text>
<rect x="374.05" y="419.2" width="3.6" height="4.6" fill="#bfe2f5" stroke="#4aa3d8" stroke-width="0.8"/>
<text x="375.85" y="432" font-size="5.4" fill="#6ab4de" font-weight="normal" text-anchor="middle" font-style="normal">D7</text>
<rect x="386.1" y="419.2" width="3.6" height="4.6" fill="#bfe2f5" stroke="#4aa3d8" stroke-width="0.8"/>
<text x="387.9" y="432" font-size="5.4" fill="#6ab4de" font-weight="normal" text-anchor="middle" font-style="normal">D6</text>
<rect x="398.15" y="419.2" width="3.6" height="4.6" fill="#bfe2f5" stroke="#4aa3d8" stroke-width="0.8"/>
<text x="399.95" y="432" font-size="5.4" fill="#6ab4de" font-weight="normal" text-anchor="middle" font-style="normal">D5</text>
<rect x="410.2" y="419.2" width="3.6" height="4.6" fill="#bfe2f5" stroke="#4aa3d8" stroke-width="0.8"/>
<text x="412.0" y="432" font-size="5.4" fill="#6ab4de" font-weight="normal" text-anchor="middle" font-style="normal">D4</text>
<rect x="422.25" y="419.2" width="3.6" height="4.6" fill="#bfe2f5" stroke="#4aa3d8" stroke-width="0.8"/>
<text x="424.05" y="432" font-size="5.4" fill="#6ab4de" font-weight="normal" text-anchor="middle" font-style="normal">D3</text>
<rect x="434.2" y="419.2" width="3.6" height="4.6" fill="#c6d6ee" stroke="#3a3a7a" stroke-width="0.8"/>
<text x="436" y="432" font-size="5.4" fill="#d2404e" font-weight="normal" text-anchor="middle" font-style="normal" textLength="8.6" lengthAdjust="spacingAndGlyphs">CE2</text>
<rect x="446.4" y="419.2" width="3.6" height="4.6" fill="#f5c0c5" stroke="#d23a4a" stroke-width="0.8"/>
<text x="448.2" y="432" font-size="5.4" fill="#d2404e" font-weight="normal" text-anchor="middle" font-style="normal" textLength="8.6" lengthAdjust="spacingAndGlyphs">CE1</text>
<text x="454.5" y="425.5" font-size="6.4" fill="#222" font-weight="normal" text-anchor="start" font-style="normal" textLength="18.6" lengthAdjust="spacingAndGlyphs">allele 2</text>
<rect x="0.7" y="0.7" width="518.6" height="438.6" fill="none" stroke="#666" stroke-width="1.4"/>
</svg>
</body></html>
